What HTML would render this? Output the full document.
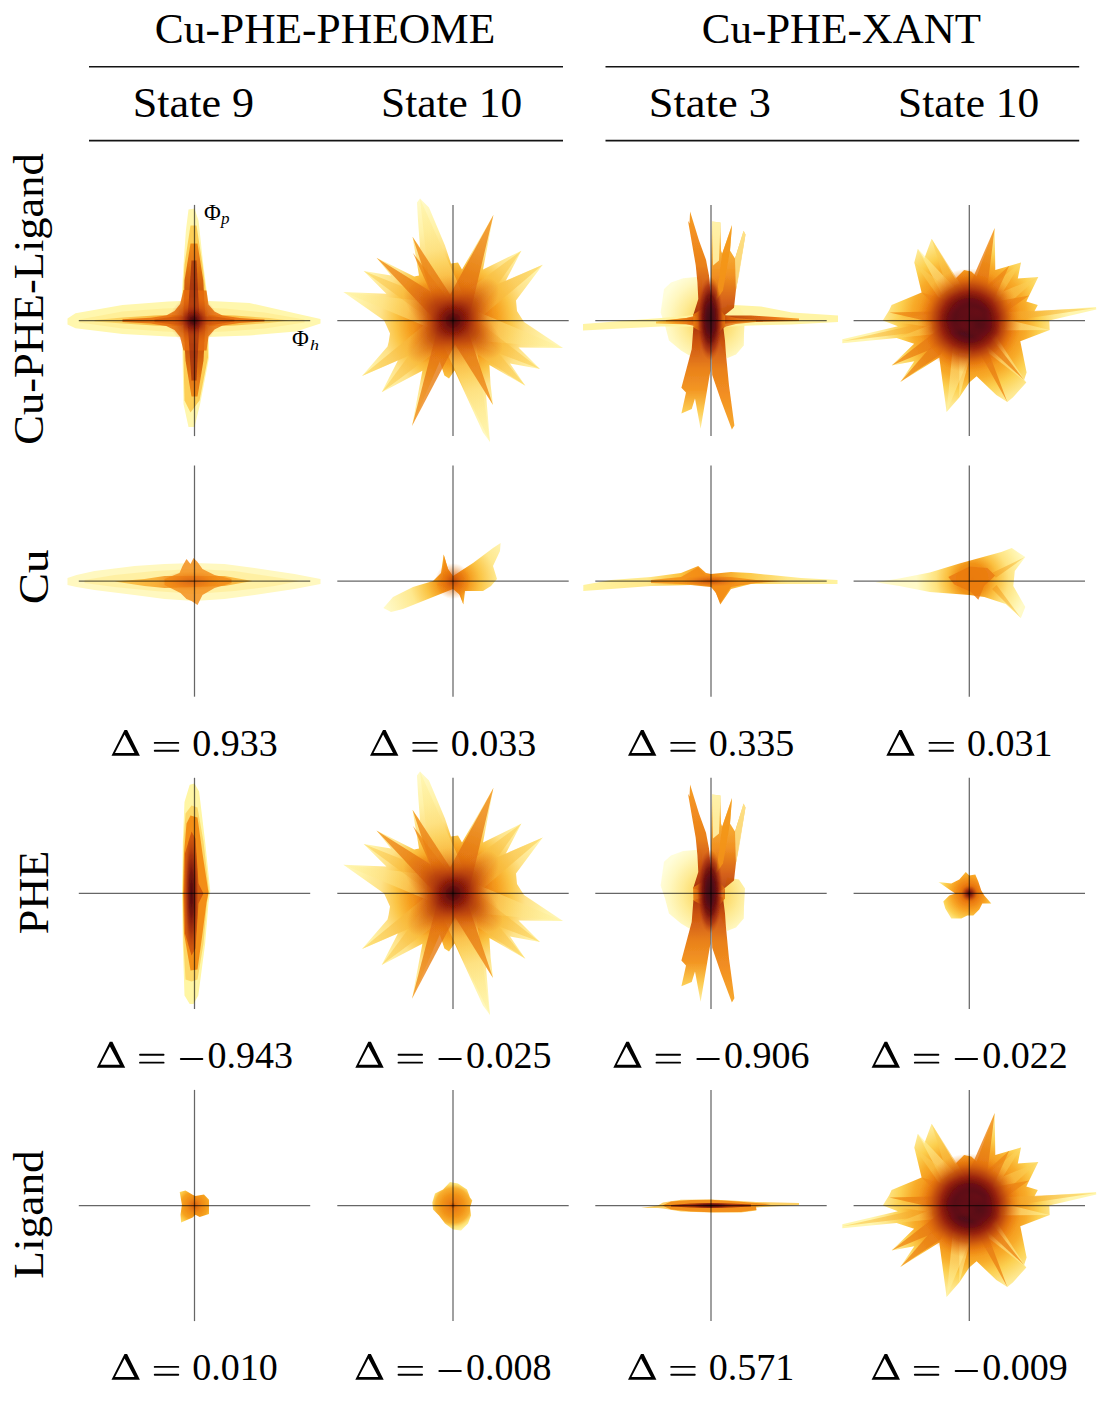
<!DOCTYPE html><html><head><meta charset="utf-8"><style>html,body{margin:0;padding:0;background:#fff;width:1120px;height:1402px;overflow:hidden}svg{display:block}</style></head><body>
<svg width="1120" height="1402" viewBox="0 0 1120 1402">
<defs><filter id="soft" x="-20%" y="-20%" width="140%" height="140%"><feGaussianBlur stdDeviation="0.7"/></filter></defs>
<g filter="url(#soft)">
<polygon points="67.5,318.5 75.5,313.2 122.5,305.1 168.5,301.5 194.5,300.5 220.5,301.5 249.5,303.0 296.0,313.5 320.5,319.0 320.5,323.5 296.0,331.5 249.5,335.5 220.5,336.5 194.5,337.5 168.5,336.5 122.5,334.1 75.5,328.3 67.5,324.5" fill="#fff7ae" fill-opacity="1"/>
<polygon points="79.5,319.5 122.5,311.5 164.5,308.5 194.5,307.5 224.5,308.5 264.5,312.5 304.5,319.5 304.5,322.5 264.5,328.5 224.5,331.5 194.5,332.5 164.5,331.5 122.5,328.5 79.5,322.5" fill="#ffea88" fill-opacity="0.6"/>
<linearGradient id="g1" gradientUnits="userSpaceOnUse" x1="94.5" y1="320.5" x2="289.5" y2="320.5"><stop offset="0" stop-color="#fde070" stop-opacity="1"/><stop offset="0.3" stop-color="#f8b030" stop-opacity="1"/><stop offset="0.5" stop-color="#ec7c10" stop-opacity="1"/><stop offset="0.7" stop-color="#f8b030" stop-opacity="1"/><stop offset="1" stop-color="#fde070" stop-opacity="1"/></linearGradient>
<polygon points="94.5,320.0 122.5,317.5 154.5,315.5 194.5,314.5 234.5,315.5 269.5,318.0 289.5,320.5 269.5,323.0 234.5,325.5 194.5,326.5 154.5,325.5 122.5,323.5 94.5,321.5" fill="url(#g1)" fill-opacity="0.85"/>
<polygon points="188.5,209.5 194.5,208.5 198.5,220.5 203.3,264.5 208.0,300.5 209.1,357.5 200.1,404.1 194.5,427.0 188.5,427.0 183.5,404.1 182.5,357.5 181.5,300.5 183.5,264.5 185.9,230.5" fill="#fff7ae" fill-opacity="1"/>
<polygon points="190.5,225.5 196.5,225.5 202.5,264.5 207.0,300.5 208.0,357.5 199.5,400.5 190.5,412.5 184.5,400.5 183.5,357.5 182.5,300.5 184.5,264.5" fill="#fcc440" fill-opacity="0.8"/>
<linearGradient id="g2" gradientUnits="userSpaceOnUse" x1="194.5" y1="240.5" x2="194.5" y2="400.5"><stop offset="0" stop-color="#f08a14" stop-opacity="1"/><stop offset="0.15" stop-color="#e2700e" stop-opacity="1"/><stop offset="0.3" stop-color="#cc560a" stop-opacity="1"/><stop offset="0.5" stop-color="#b84008" stop-opacity="1"/><stop offset="0.7" stop-color="#cc560a" stop-opacity="1"/><stop offset="0.85" stop-color="#e2700e" stop-opacity="1"/><stop offset="1" stop-color="#f08a14" stop-opacity="1"/></linearGradient>
<polygon points="190.5,243.5 197.5,243.5 203.3,280.5 205.5,320.5 203.5,360.5 197.5,396.5 191.5,396.5 185.5,360.5 183.5,320.5 184.5,280.5" fill="url(#g2)" fill-opacity="0.95"/>
<polygon points="183.5,290.0 180.1,304.0 174.5,310.9 166.2,315.5 151.0,317.8 122.5,319.3 122.5,322.0 151.0,323.5 166.2,326.0 174.5,330.1 180.1,337.0 183.5,350.5 206.5,350.5 208.5,336.5 214.5,329.5 222.5,325.5 239.5,323.0 264.5,321.5 264.5,319.5 239.5,318.0 222.5,315.5 214.5,311.5 208.5,304.5 206.5,290.5" fill="#e66c0c" fill-opacity="0.85"/>
<polygon points="154.5,319.5 174.5,316.5 214.5,316.5 234.5,319.5 234.5,321.5 214.5,324.5 174.5,324.5 154.5,322.0" fill="#c84a08" fill-opacity="0.5"/>
<polygon points="191.5,260.5 196.5,260.5 199.5,320.5 196.5,380.5 191.5,380.5 187.5,320.5" fill="#8a1a08" fill-opacity="0.55"/>
<radialGradient id="g3" gradientUnits="userSpaceOnUse" cx="193.5" cy="320.5" r="24"><stop offset="0" stop-color="#3c0812" stop-opacity="1"/><stop offset="0.15" stop-color="#5e0c0c" stop-opacity="0.95"/><stop offset="0.35" stop-color="#8a1a06" stop-opacity="0.75"/><stop offset="0.6" stop-color="#b83c08" stop-opacity="0.45"/><stop offset="1" stop-color="#d06010" stop-opacity="0"/></radialGradient>
<ellipse cx="193.5" cy="320.5" rx="24" ry="24" transform="rotate(0 193.5 320.5)" fill="url(#g3)" fill-opacity="1"/>
</g>
<g filter="url(#soft)">
<radialGradient id="g4" gradientUnits="userSpaceOnUse" cx="453.0" cy="320.5" r="125"><stop offset="0" stop-color="#e06a0e" stop-opacity="1"/><stop offset="0.25" stop-color="#f08a14" stop-opacity="1"/><stop offset="0.36" stop-color="#f6a020" stop-opacity="1"/><stop offset="0.46" stop-color="#fbc444" stop-opacity="1"/><stop offset="0.58" stop-color="#fee288" stop-opacity="1"/><stop offset="0.75" stop-color="#fff2a8" stop-opacity="1"/><stop offset="1" stop-color="#fffac8" stop-opacity="1"/></radialGradient>
<polygon points="420.0,198.5 429.0,207.5 445.0,245.5 451.0,263.5 458.0,262.5 462.0,269.5 493.5,214.8 483.0,269.5 521.4,250.7 505.7,280.9 542.8,264.7 516.0,300.5 517.0,311.1 524.0,322.0 563.0,348.1 518.5,347.5 540.0,369.0 510.0,363.5 525.4,385.8 489.4,365.0 490.6,384.7 493.0,405.0 486.0,394.0 490.0,442.1 483.0,432.5 454.6,370.5 449.0,378.5 444.4,375.5 439.8,361.5 412.0,425.9 422.4,370.8 381.7,392.2 398.0,360.3 362.0,376.0 387.5,346.5 388.7,341.7 390.0,333.5 386.4,325.5 384.1,320.5 343.4,291.9 386.4,293.7 363.7,271.1 391.0,275.5 376.5,257.7 414.2,276.5 419.0,275.5 412.5,236.8 420.0,247.5 418.0,220.5 417.0,202.5" fill="url(#g4)" fill-opacity="1"/>
<linearGradient id="g5" gradientUnits="userSpaceOnUse" x1="453.0" y1="320.5" x2="420.0" y2="198.5"><stop offset="0" stop-color="#fbc444" stop-opacity="1"/><stop offset="1" stop-color="#fff6a8" stop-opacity="1"/></linearGradient>
<polygon points="420.0,198.5 472.3,315.3 433.7,325.7" fill="url(#g5)" fill-opacity="0.6"/>
<linearGradient id="g6" gradientUnits="userSpaceOnUse" x1="453.0" y1="320.5" x2="490.0" y2="442.1"><stop offset="0" stop-color="#fbc444" stop-opacity="1"/><stop offset="1" stop-color="#fff6a8" stop-opacity="1"/></linearGradient>
<polygon points="490.0,442.1 433.9,326.3 472.1,314.7" fill="url(#g6)" fill-opacity="0.6"/>
<linearGradient id="g7" gradientUnits="userSpaceOnUse" x1="453.0" y1="320.5" x2="563.0" y2="348.1"><stop offset="0" stop-color="#fbc444" stop-opacity="1"/><stop offset="1" stop-color="#fff6a8" stop-opacity="1"/></linearGradient>
<polygon points="563.0,348.1 448.6,338.0 457.4,303.0" fill="url(#g7)" fill-opacity="0.6"/>
<linearGradient id="g8" gradientUnits="userSpaceOnUse" x1="453.0" y1="320.5" x2="343.4" y2="291.9"><stop offset="0" stop-color="#fbc444" stop-opacity="1"/><stop offset="1" stop-color="#fff6a8" stop-opacity="1"/></linearGradient>
<polygon points="343.4,291.9 457.0,305.0 449.0,336.0" fill="url(#g8)" fill-opacity="0.6"/>
<linearGradient id="g9" gradientUnits="userSpaceOnUse" x1="453.0" y1="320.5" x2="521.4" y2="250.7"><stop offset="0" stop-color="#f29a1c" stop-opacity="1"/><stop offset="1" stop-color="#fdd860" stop-opacity="1"/></linearGradient>
<polygon points="521.4,250.7 464.4,331.7 441.6,309.3" fill="url(#g9)" fill-opacity="0.65"/>
<linearGradient id="g10" gradientUnits="userSpaceOnUse" x1="453.0" y1="320.5" x2="542.8" y2="264.7"><stop offset="0" stop-color="#f29a1c" stop-opacity="1"/><stop offset="1" stop-color="#fdd860" stop-opacity="1"/></linearGradient>
<polygon points="542.8,264.7 461.4,334.1 444.6,306.9" fill="url(#g10)" fill-opacity="0.65"/>
<linearGradient id="g11" gradientUnits="userSpaceOnUse" x1="453.0" y1="320.5" x2="540.0" y2="369.0"><stop offset="0" stop-color="#f29a1c" stop-opacity="1"/><stop offset="1" stop-color="#fdd860" stop-opacity="1"/></linearGradient>
<polygon points="540.0,369.0 445.7,333.6 460.3,307.4" fill="url(#g11)" fill-opacity="0.65"/>
<linearGradient id="g12" gradientUnits="userSpaceOnUse" x1="453.0" y1="320.5" x2="525.4" y2="385.8"><stop offset="0" stop-color="#f29a1c" stop-opacity="1"/><stop offset="1" stop-color="#fdd860" stop-opacity="1"/></linearGradient>
<polygon points="525.4,385.8 443.0,331.6 463.0,309.4" fill="url(#g12)" fill-opacity="0.65"/>
<linearGradient id="g13" gradientUnits="userSpaceOnUse" x1="453.0" y1="320.5" x2="381.7" y2="392.2"><stop offset="0" stop-color="#f29a1c" stop-opacity="1"/><stop offset="1" stop-color="#fdd860" stop-opacity="1"/></linearGradient>
<polygon points="381.7,392.2 442.4,309.9 463.6,331.1" fill="url(#g13)" fill-opacity="0.65"/>
<linearGradient id="g14" gradientUnits="userSpaceOnUse" x1="453.0" y1="320.5" x2="362.0" y2="376.0"><stop offset="0" stop-color="#f29a1c" stop-opacity="1"/><stop offset="1" stop-color="#fdd860" stop-opacity="1"/></linearGradient>
<polygon points="362.0,376.0 445.2,307.7 460.8,333.3" fill="url(#g14)" fill-opacity="0.65"/>
<linearGradient id="g15" gradientUnits="userSpaceOnUse" x1="453.0" y1="320.5" x2="363.7" y2="271.1"><stop offset="0" stop-color="#f29a1c" stop-opacity="1"/><stop offset="1" stop-color="#fdd860" stop-opacity="1"/></linearGradient>
<polygon points="363.7,271.1 459.3,309.1 446.7,331.9" fill="url(#g15)" fill-opacity="0.65"/>
<linearGradient id="g16" gradientUnits="userSpaceOnUse" x1="453.0" y1="320.5" x2="493.5" y2="214.8"><stop offset="0" stop-color="#d8620c" stop-opacity="1"/><stop offset="1" stop-color="#f39018" stop-opacity="1"/></linearGradient>
<polygon points="493.5,214.8 467.0,325.9 439.0,315.1" fill="url(#g16)" fill-opacity="0.8"/>
<linearGradient id="g17" gradientUnits="userSpaceOnUse" x1="453.0" y1="320.5" x2="493.0" y2="405.0"><stop offset="0" stop-color="#d8620c" stop-opacity="1"/><stop offset="1" stop-color="#f39018" stop-opacity="1"/></linearGradient>
<polygon points="493.0,405.0 443.1,325.2 462.9,315.8" fill="url(#g17)" fill-opacity="0.8"/>
<linearGradient id="g18" gradientUnits="userSpaceOnUse" x1="453.0" y1="320.5" x2="412.0" y2="425.9"><stop offset="0" stop-color="#d8620c" stop-opacity="1"/><stop offset="1" stop-color="#f39018" stop-opacity="1"/></linearGradient>
<polygon points="412.0,425.9 440.9,315.8 465.1,325.2" fill="url(#g18)" fill-opacity="0.8"/>
<linearGradient id="g19" gradientUnits="userSpaceOnUse" x1="453.0" y1="320.5" x2="376.5" y2="257.7"><stop offset="0" stop-color="#d8620c" stop-opacity="1"/><stop offset="1" stop-color="#f39018" stop-opacity="1"/></linearGradient>
<polygon points="376.5,257.7 461.2,310.5 444.8,330.5" fill="url(#g19)" fill-opacity="0.8"/>
<linearGradient id="g20" gradientUnits="userSpaceOnUse" x1="453.0" y1="320.5" x2="412.5" y2="236.8"><stop offset="0" stop-color="#d8620c" stop-opacity="1"/><stop offset="1" stop-color="#f39018" stop-opacity="1"/></linearGradient>
<polygon points="412.5,236.8 463.8,315.3 442.2,325.7" fill="url(#g20)" fill-opacity="0.8"/>
<linearGradient id="g21" gradientUnits="userSpaceOnUse" x1="453.0" y1="320.5" x2="413.0" y2="253.1"><stop offset="0" stop-color="#d8620c" stop-opacity="1"/><stop offset="1" stop-color="#f39018" stop-opacity="1"/></linearGradient>
<polygon points="413.0,253.1 460.7,315.9 445.3,325.1" fill="url(#g21)" fill-opacity="0.8"/>
<radialGradient id="g22" gradientUnits="userSpaceOnUse" cx="453.0" cy="320.5" r="58" gradientTransform="translate(453.0 320.5) rotate(0) scale(1 0.4138) translate(-453.0 -320.5)"><stop offset="0" stop-color="#6a0e0c" stop-opacity="0.9"/><stop offset="0.3" stop-color="#8a1a08" stop-opacity="0.8"/><stop offset="0.55" stop-color="#b83c08" stop-opacity="0.6"/><stop offset="0.8" stop-color="#d86010" stop-opacity="0.3"/><stop offset="1" stop-color="#e0680c" stop-opacity="0"/></radialGradient>
<ellipse cx="453.0" cy="320.5" rx="58" ry="24" transform="rotate(35 453.0 320.5)" fill="url(#g22)" fill-opacity="1"/>
<radialGradient id="g23" gradientUnits="userSpaceOnUse" cx="453.0" cy="320.5" r="58" gradientTransform="translate(453.0 320.5) rotate(0) scale(1 0.4138) translate(-453.0 -320.5)"><stop offset="0" stop-color="#6a0e0c" stop-opacity="0.9"/><stop offset="0.3" stop-color="#8a1a08" stop-opacity="0.8"/><stop offset="0.55" stop-color="#b83c08" stop-opacity="0.6"/><stop offset="0.8" stop-color="#d86010" stop-opacity="0.3"/><stop offset="1" stop-color="#e0680c" stop-opacity="0"/></radialGradient>
<ellipse cx="453.0" cy="320.5" rx="58" ry="24" transform="rotate(-42 453.0 320.5)" fill="url(#g23)" fill-opacity="1"/>
<radialGradient id="g24" gradientUnits="userSpaceOnUse" cx="453.0" cy="320.5" r="46"><stop offset="0.0" stop-color="#3c0812" stop-opacity="1"/><stop offset="0.1" stop-color="#5e0c0c" stop-opacity="0.95"/><stop offset="0.28" stop-color="#8a1a06" stop-opacity="0.85"/><stop offset="0.5" stop-color="#b84008" stop-opacity="0.65"/><stop offset="0.75" stop-color="#d8640c" stop-opacity="0.35"/><stop offset="1.0" stop-color="#f08a14" stop-opacity="0"/></radialGradient>
<ellipse cx="453.0" cy="320.5" rx="46" ry="46" transform="rotate(0 453.0 320.5)" fill="url(#g24)" fill-opacity="1"/>
</g>
<g filter="url(#soft)">
<radialGradient id="g25" gradientUnits="userSpaceOnUse" cx="711.0" cy="320.5" r="52"><stop offset="0" stop-color="#f8b030" stop-opacity="1"/><stop offset="0.3" stop-color="#fcd860" stop-opacity="1"/><stop offset="0.55" stop-color="#feea90" stop-opacity="1"/><stop offset="0.8" stop-color="#fff7bc" stop-opacity="1"/><stop offset="1" stop-color="#fffdd8" stop-opacity="1"/></radialGradient>
<polygon points="701.0,276.5 683.1,278.2 671.0,282.5 664.0,288.9 660.6,312.5 665.0,325.5 669.0,340.5 681.0,350.5 691.0,356.5 699.0,356.5 705.0,320.5" fill="url(#g25)" fill-opacity="0.95"/>
<polygon points="727.0,304.5 739.0,306.5 745.0,315.5 744.0,333.5 743.8,345.5 736.0,354.5 727.0,358.2 719.0,340.5" fill="url(#g25)" fill-opacity="0.95"/>
<polygon points="583.0,324.0 621.0,321.0 661.0,318.0 691.0,315.5 734.0,305.1 761.0,306.5 792.0,312.5 838.0,315.5 838.0,322.0 791.0,324.5 751.0,325.5 731.0,326.5 691.0,326.5 661.0,326.5 621.0,328.5 583.0,330.5" fill="#fff3a0" fill-opacity="0.95"/>
<linearGradient id="g26" gradientUnits="userSpaceOnUse" x1="656.0" y1="320.5" x2="801.0" y2="320.5"><stop offset="0" stop-color="#fcc440" stop-opacity="1"/><stop offset="0.2" stop-color="#f28a14" stop-opacity="1"/><stop offset="0.38" stop-color="#8a1a08" stop-opacity="1"/><stop offset="0.55" stop-color="#c04a08" stop-opacity="1"/><stop offset="0.8" stop-color="#e66c0c" stop-opacity="1"/><stop offset="1" stop-color="#f8a426" stop-opacity="1"/></linearGradient>
<polygon points="656.0,321.5 691.0,317.5 711.0,315.5 751.0,315.5 799.0,318.5 799.0,321.0 751.0,322.0 711.0,324.5 691.0,324.5 656.0,323.5" fill="url(#g26)" fill-opacity="0.95"/>
<linearGradient id="g27" gradientUnits="userSpaceOnUse" x1="663.0" y1="320.5" x2="759.0" y2="320.5"><stop offset="0" stop-color="#f8a426" stop-opacity="1"/><stop offset="0.3" stop-color="#e66c0c" stop-opacity="1"/><stop offset="0.5" stop-color="#9a2406" stop-opacity="1"/><stop offset="0.7" stop-color="#e66c0c" stop-opacity="1"/><stop offset="1" stop-color="#f8a426" stop-opacity="1"/></linearGradient>
<polygon points="666.0,320.0 686.0,318.0 696.0,315.5 701.0,311.5 721.0,311.5 726.0,315.5 736.0,318.0 756.0,320.0 756.0,322.0 736.0,324.0 726.0,326.5 721.0,329.5 701.0,329.5 696.0,326.5 686.0,324.0 666.0,322.0" fill="url(#g27)" fill-opacity="0.8"/>
<linearGradient id="g28" gradientUnits="userSpaceOnUse" x1="711.0" y1="320.5" x2="711.0" y2="210.5"><stop offset="0" stop-color="#9a2406" stop-opacity="1"/><stop offset="0.25" stop-color="#c84a08" stop-opacity="1"/><stop offset="0.5" stop-color="#e87a10" stop-opacity="1"/><stop offset="0.8" stop-color="#f28a14" stop-opacity="1"/><stop offset="1" stop-color="#f49a1c" stop-opacity="1"/></linearGradient>
<polygon points="690.1,211.5 699.0,240.5 706.0,259.8 709.0,275.5 711.0,300.5 711.0,320.5 693.1,315.5 698.3,299.1 697.4,282.0 695.7,264.9 688.0,220.8 689.5,223.5" fill="url(#g28)" fill-opacity="0.95"/>
<linearGradient id="g29" gradientUnits="userSpaceOnUse" x1="711.0" y1="320.5" x2="711.0" y2="220.5"><stop offset="0" stop-color="#b03a08" stop-opacity="1"/><stop offset="0.2" stop-color="#d45a0a" stop-opacity="1"/><stop offset="0.45" stop-color="#f08a14" stop-opacity="1"/><stop offset="0.75" stop-color="#f8b030" stop-opacity="1"/><stop offset="1" stop-color="#fde080" stop-opacity="1"/></linearGradient>
<polygon points="711.0,320.5 711.0,280.5 712.0,221.5 720.5,222.5 721.0,250.5 722.2,253.8 732.0,225.1 730.0,250.5 735.0,258.5 743.6,230.7 745.5,234.5 735.9,290.5 734.0,307.7 723.0,316.5" fill="url(#g29)" fill-opacity="0.95"/>
<polygon points="712.0,221.5 720.5,222.5 719.0,260.5 713.0,265.5" fill="#fff6b0" fill-opacity="0.85"/>
<polygon points="735.0,258.5 743.6,230.7 745.5,234.5 739.0,275.5 735.9,290.5" fill="#fee690" fill-opacity="0.8"/>
<polygon points="722.2,253.8 732.0,225.1 730.0,250.5 723.0,290.5 716.0,300.5" fill="#f39418" fill-opacity="0.85"/>
<linearGradient id="g30" gradientUnits="userSpaceOnUse" x1="711.0" y1="320.5" x2="711.0" y2="426.5"><stop offset="0" stop-color="#9a2406" stop-opacity="1"/><stop offset="0.2" stop-color="#c84a08" stop-opacity="1"/><stop offset="0.45" stop-color="#e87a10" stop-opacity="1"/><stop offset="0.65" stop-color="#f29016" stop-opacity="1"/><stop offset="0.85" stop-color="#fcc848" stop-opacity="1"/><stop offset="1" stop-color="#fee890" stop-opacity="1"/></linearGradient>
<polygon points="711.0,322.5 693.4,327.0 691.7,349.2 681.4,387.7 686.0,392.5 681.4,413.4 691.7,409.1 695.0,398.5 700.6,428.8 708.8,380.0 710.5,370.5 711.0,340.5" fill="url(#g30)" fill-opacity="0.95"/>
<linearGradient id="g31" gradientUnits="userSpaceOnUse" x1="711.0" y1="320.5" x2="711.0" y2="428.5"><stop offset="0" stop-color="#9a2406" stop-opacity="1"/><stop offset="0.2" stop-color="#c84a08" stop-opacity="1"/><stop offset="0.45" stop-color="#e87a10" stop-opacity="1"/><stop offset="0.7" stop-color="#f28a14" stop-opacity="1"/><stop offset="1" stop-color="#f6a424" stop-opacity="1"/></linearGradient>
<polygon points="712.0,322.5 723.0,324.5 725.0,340.7 725.9,353.5 729.0,385.5 734.4,425.4 731.9,429.5 721.0,400.5 712.2,374.9 711.5,350.5" fill="url(#g31)" fill-opacity="0.95"/>
<linearGradient id="g32" gradientUnits="userSpaceOnUse" x1="694.0" y1="320.5" x2="726.0" y2="320.5"><stop offset="0" stop-color="#e87a10" stop-opacity="1"/><stop offset="0.25" stop-color="#c04a08" stop-opacity="1"/><stop offset="0.5" stop-color="#8a1a08" stop-opacity="1"/><stop offset="0.75" stop-color="#c04a08" stop-opacity="1"/><stop offset="1" stop-color="#e87a10" stop-opacity="1"/></linearGradient>
<polygon points="693.1,314.5 703.0,308.5 719.0,308.5 725.0,315.5 725.0,325.5 719.0,332.5 703.0,332.5 693.4,327.5" fill="url(#g32)" fill-opacity="0.9"/>
<radialGradient id="g33" gradientUnits="userSpaceOnUse" cx="710.0" cy="318.5" r="13" gradientTransform="translate(710.0 318.5) rotate(0) scale(1 3.2308) translate(-710.0 -318.5)"><stop offset="0" stop-color="#3c0812" stop-opacity="1"/><stop offset="0.3" stop-color="#520c14" stop-opacity="1"/><stop offset="0.55" stop-color="#6e0e10" stop-opacity="0.9"/><stop offset="0.8" stop-color="#9a2406" stop-opacity="0.55"/><stop offset="1" stop-color="#c04a08" stop-opacity="0"/></radialGradient>
<ellipse cx="710.0" cy="318.5" rx="13" ry="42" transform="rotate(0 710.0 318.5)" fill="url(#g33)" fill-opacity="1"/>
</g>
<g filter="url(#soft)">
<radialGradient id="g34" gradientUnits="userSpaceOnUse" cx="969.3" cy="320.5" r="100"><stop offset="0.0" stop-color="#d85a0c" stop-opacity="1"/><stop offset="0.3" stop-color="#ec7a10" stop-opacity="1"/><stop offset="0.45" stop-color="#f29016" stop-opacity="1"/><stop offset="0.58" stop-color="#f8ac2a" stop-opacity="1"/><stop offset="0.7" stop-color="#fcd050" stop-opacity="1"/><stop offset="0.85" stop-color="#fee890" stop-opacity="1"/><stop offset="1.0" stop-color="#fff6b0" stop-opacity="1"/></radialGradient>
<polygon points="971.3,271.5 976.6,276.5 994.7,228.1 995.3,270.0 1021.0,262.5 1017.8,278.5 1038.3,276.9 1026.3,301.5 1037.8,305.0 1034.3,311.5 1096.0,307.0 1096.3,309.5 1049.3,320.5 1049.7,330.0 1020.3,341.2 1026.6,372.5 1024.1,380.0 1026.3,382.5 1012.8,397.5 1007.3,401.9 996.3,395.0 976.6,376.2 969.3,382.5 959.3,397.5 946.6,411.9 939.3,357.5 900.3,381.9 914.3,361.2 891.6,365.5 914.1,343.7 896.6,338.1 842.3,343.2 842.3,339.2 897.9,326.2 882.8,320.5 889.3,310.0 891.6,305.0 921.6,292.5 914.3,262.5 917.8,248.7 924.3,258.5 931.6,238.7 955.3,278.7 964.1,270.0" fill="url(#g34)" fill-opacity="1"/>
<linearGradient id="g35" gradientUnits="userSpaceOnUse" x1="969.3" y1="320.5" x2="946.6" y2="411.9"><stop offset="0" stop-color="#fbc444" stop-opacity="1"/><stop offset="1" stop-color="#fff6a8" stop-opacity="1"/></linearGradient>
<polygon points="946.6,411.9 955.7,317.1 982.9,323.9" fill="url(#g35)" fill-opacity="0.6"/>
<linearGradient id="g36" gradientUnits="userSpaceOnUse" x1="969.3" y1="320.5" x2="1026.3" y2="382.5"><stop offset="0" stop-color="#fbc444" stop-opacity="1"/><stop offset="1" stop-color="#fff6a8" stop-opacity="1"/></linearGradient>
<polygon points="1026.3,382.5 959.0,330.0 979.6,311.0" fill="url(#g36)" fill-opacity="0.6"/>
<linearGradient id="g37" gradientUnits="userSpaceOnUse" x1="969.3" y1="320.5" x2="917.8" y2="248.7"><stop offset="0" stop-color="#fbc444" stop-opacity="1"/><stop offset="1" stop-color="#fff6a8" stop-opacity="1"/></linearGradient>
<polygon points="917.8,248.7 979.1,313.5 959.5,327.5" fill="url(#g37)" fill-opacity="0.6"/>
<linearGradient id="g38" gradientUnits="userSpaceOnUse" x1="969.3" y1="320.5" x2="1049.7" y2="330.0"><stop offset="0" stop-color="#fbc444" stop-opacity="1"/><stop offset="1" stop-color="#fff6a8" stop-opacity="1"/></linearGradient>
<polygon points="1049.7,330.0 968.1,330.4 970.5,310.6" fill="url(#g38)" fill-opacity="0.6"/>
<linearGradient id="g39" gradientUnits="userSpaceOnUse" x1="969.3" y1="320.5" x2="959.3" y2="397.5"><stop offset="0" stop-color="#fbc444" stop-opacity="1"/><stop offset="1" stop-color="#fff6a8" stop-opacity="1"/></linearGradient>
<polygon points="959.3,397.5 959.4,319.2 979.2,321.8" fill="url(#g39)" fill-opacity="0.6"/>
<linearGradient id="g40" gradientUnits="userSpaceOnUse" x1="969.3" y1="320.5" x2="914.3" y2="262.5"><stop offset="0" stop-color="#f29a1c" stop-opacity="1"/><stop offset="1" stop-color="#fdd860" stop-opacity="1"/></linearGradient>
<polygon points="914.3,262.5 978.0,312.2 960.6,328.8" fill="url(#g40)" fill-opacity="0.65"/>
<linearGradient id="g41" gradientUnits="userSpaceOnUse" x1="969.3" y1="320.5" x2="931.6" y2="238.7"><stop offset="0" stop-color="#f29a1c" stop-opacity="1"/><stop offset="1" stop-color="#fdd860" stop-opacity="1"/></linearGradient>
<polygon points="931.6,238.7 980.2,315.5 958.4,325.5" fill="url(#g41)" fill-opacity="0.65"/>
<linearGradient id="g42" gradientUnits="userSpaceOnUse" x1="969.3" y1="320.5" x2="1021.0" y2="262.5"><stop offset="0" stop-color="#f29a1c" stop-opacity="1"/><stop offset="1" stop-color="#fdd860" stop-opacity="1"/></linearGradient>
<polygon points="1021.0,262.5 979.8,329.8 958.8,311.2" fill="url(#g42)" fill-opacity="0.65"/>
<linearGradient id="g43" gradientUnits="userSpaceOnUse" x1="969.3" y1="320.5" x2="1038.3" y2="276.9"><stop offset="0" stop-color="#f29a1c" stop-opacity="1"/><stop offset="1" stop-color="#fdd860" stop-opacity="1"/></linearGradient>
<polygon points="1038.3,276.9 976.8,332.3 961.8,308.7" fill="url(#g43)" fill-opacity="0.65"/>
<linearGradient id="g44" gradientUnits="userSpaceOnUse" x1="939.3" y1="324.5" x2="842.3" y2="341.2"><stop offset="0" stop-color="#f29a1c" stop-opacity="1"/><stop offset="1" stop-color="#fdd860" stop-opacity="1"/></linearGradient>
<polygon points="842.3,341.2 938.5,319.6 940.1,329.4" fill="url(#g44)" fill-opacity="0.65"/>
<linearGradient id="g45" gradientUnits="userSpaceOnUse" x1="999.3" y1="317.5" x2="1096.0" y2="308.0"><stop offset="0" stop-color="#f29a1c" stop-opacity="1"/><stop offset="1" stop-color="#fdd860" stop-opacity="1"/></linearGradient>
<polygon points="1096.0,308.0 999.8,322.5 998.8,312.5" fill="url(#g45)" fill-opacity="0.65"/>
<linearGradient id="g46" gradientUnits="userSpaceOnUse" x1="969.3" y1="320.5" x2="883.3" y2="320.5"><stop offset="0" stop-color="#f29a1c" stop-opacity="1"/><stop offset="1" stop-color="#fdd860" stop-opacity="1"/></linearGradient>
<polygon points="883.3,320.5 969.3,308.5 969.3,332.5" fill="url(#g46)" fill-opacity="0.65"/>
<linearGradient id="g47" gradientUnits="userSpaceOnUse" x1="969.3" y1="320.5" x2="896.6" y2="338.1"><stop offset="0" stop-color="#f29a1c" stop-opacity="1"/><stop offset="1" stop-color="#fdd860" stop-opacity="1"/></linearGradient>
<polygon points="896.6,338.1 966.9,310.8 971.7,330.2" fill="url(#g47)" fill-opacity="0.65"/>
<linearGradient id="g48" gradientUnits="userSpaceOnUse" x1="969.3" y1="320.5" x2="994.7" y2="228.1"><stop offset="0" stop-color="#d8620c" stop-opacity="1"/><stop offset="1" stop-color="#f39018" stop-opacity="1"/></linearGradient>
<polygon points="994.7,228.1 982.8,324.2 955.8,316.8" fill="url(#g48)" fill-opacity="0.8"/>
<linearGradient id="g49" gradientUnits="userSpaceOnUse" x1="969.3" y1="320.5" x2="891.6" y2="365.5"><stop offset="0" stop-color="#d8620c" stop-opacity="1"/><stop offset="1" stop-color="#f39018" stop-opacity="1"/></linearGradient>
<polygon points="891.6,365.5 963.3,310.1 975.3,330.9" fill="url(#g49)" fill-opacity="0.8"/>
<linearGradient id="g50" gradientUnits="userSpaceOnUse" x1="969.3" y1="320.5" x2="900.3" y2="381.9"><stop offset="0" stop-color="#d8620c" stop-opacity="1"/><stop offset="1" stop-color="#f39018" stop-opacity="1"/></linearGradient>
<polygon points="900.3,381.9 961.3,311.5 977.3,329.5" fill="url(#g50)" fill-opacity="0.8"/>
<linearGradient id="g51" gradientUnits="userSpaceOnUse" x1="969.3" y1="320.5" x2="1007.3" y2="401.9"><stop offset="0" stop-color="#d8620c" stop-opacity="1"/><stop offset="1" stop-color="#f39018" stop-opacity="1"/></linearGradient>
<polygon points="1007.3,401.9 963.0,323.5 975.6,317.5" fill="url(#g51)" fill-opacity="0.8"/>
<linearGradient id="g52" gradientUnits="userSpaceOnUse" x1="969.3" y1="320.5" x2="1024.1" y2="380.0"><stop offset="0" stop-color="#d8620c" stop-opacity="1"/><stop offset="1" stop-color="#f39018" stop-opacity="1"/></linearGradient>
<polygon points="1024.1,380.0 964.2,325.2 974.4,315.8" fill="url(#g52)" fill-opacity="0.8"/>
<linearGradient id="g53" gradientUnits="userSpaceOnUse" x1="969.3" y1="320.5" x2="889.3" y2="312.5"><stop offset="0" stop-color="#d8620c" stop-opacity="1"/><stop offset="1" stop-color="#f39018" stop-opacity="1"/></linearGradient>
<polygon points="889.3,312.5 970.3,310.5 968.3,330.5" fill="url(#g53)" fill-opacity="0.8"/>
<linearGradient id="g54" gradientUnits="userSpaceOnUse" x1="969.3" y1="320.5" x2="1029.3" y2="295.5"><stop offset="0" stop-color="#d8620c" stop-opacity="1"/><stop offset="1" stop-color="#f39018" stop-opacity="1"/></linearGradient>
<polygon points="1029.3,295.5 974.7,333.4 963.9,307.6" fill="url(#g54)" fill-opacity="0.8"/>
<linearGradient id="g55" gradientUnits="userSpaceOnUse" x1="969.3" y1="320.5" x2="1009.3" y2="265.5"><stop offset="0" stop-color="#d8620c" stop-opacity="1"/><stop offset="1" stop-color="#f39018" stop-opacity="1"/></linearGradient>
<polygon points="1009.3,265.5 980.6,328.7 958.0,312.3" fill="url(#g55)" fill-opacity="0.8"/>
<linearGradient id="g56" gradientUnits="userSpaceOnUse" x1="969.3" y1="320.5" x2="921.6" y2="292.5"><stop offset="0" stop-color="#d8620c" stop-opacity="1"/><stop offset="1" stop-color="#f39018" stop-opacity="1"/></linearGradient>
<polygon points="921.6,292.5 976.4,308.4 962.2,332.6" fill="url(#g56)" fill-opacity="0.8"/>
<linearGradient id="g57" gradientUnits="userSpaceOnUse" x1="969.3" y1="320.5" x2="939.3" y2="357.5"><stop offset="0" stop-color="#d8620c" stop-opacity="1"/><stop offset="1" stop-color="#f39018" stop-opacity="1"/></linearGradient>
<polygon points="939.3,357.5 960.0,312.9 978.6,328.1" fill="url(#g57)" fill-opacity="0.8"/>
<radialGradient id="g58" gradientUnits="userSpaceOnUse" cx="951.3" cy="332.5" r="26" gradientTransform="translate(951.3 332.5) rotate(0) scale(1 0.4615) translate(-951.3 -332.5)"><stop offset="0" stop-color="#8a1a08" stop-opacity="0.55"/><stop offset="0.5" stop-color="#b03a08" stop-opacity="0.35"/><stop offset="1" stop-color="#d05a0c" stop-opacity="0"/></radialGradient>
<ellipse cx="951.3" cy="332.5" rx="26" ry="12" transform="rotate(-30 951.3 332.5)" fill="url(#g58)" fill-opacity="1"/>
<radialGradient id="g59" gradientUnits="userSpaceOnUse" cx="985.3" cy="306.5" r="26" gradientTransform="translate(985.3 306.5) rotate(0) scale(1 0.4615) translate(-985.3 -306.5)"><stop offset="0" stop-color="#8a1a08" stop-opacity="0.55"/><stop offset="0.5" stop-color="#b03a08" stop-opacity="0.35"/><stop offset="1" stop-color="#d05a0c" stop-opacity="0"/></radialGradient>
<ellipse cx="985.3" cy="306.5" rx="26" ry="12" transform="rotate(-35 985.3 306.5)" fill="url(#g59)" fill-opacity="1"/>
<radialGradient id="g60" gradientUnits="userSpaceOnUse" cx="983.3" cy="334.5" r="22" gradientTransform="translate(983.3 334.5) rotate(0) scale(1 0.4545) translate(-983.3 -334.5)"><stop offset="0" stop-color="#8a1a08" stop-opacity="0.55"/><stop offset="0.5" stop-color="#b03a08" stop-opacity="0.35"/><stop offset="1" stop-color="#d05a0c" stop-opacity="0"/></radialGradient>
<ellipse cx="983.3" cy="334.5" rx="22" ry="10" transform="rotate(50 983.3 334.5)" fill="url(#g60)" fill-opacity="1"/>
<radialGradient id="g61" gradientUnits="userSpaceOnUse" cx="955.3" cy="306.5" r="22" gradientTransform="translate(955.3 306.5) rotate(0) scale(1 0.4545) translate(-955.3 -306.5)"><stop offset="0" stop-color="#8a1a08" stop-opacity="0.55"/><stop offset="0.5" stop-color="#b03a08" stop-opacity="0.35"/><stop offset="1" stop-color="#d05a0c" stop-opacity="0"/></radialGradient>
<ellipse cx="955.3" cy="306.5" rx="22" ry="10" transform="rotate(45 955.3 306.5)" fill="url(#g61)" fill-opacity="1"/>
<radialGradient id="g62" gradientUnits="userSpaceOnUse" cx="991.3" cy="318.5" r="22" gradientTransform="translate(991.3 318.5) rotate(0) scale(1 0.4091) translate(-991.3 -318.5)"><stop offset="0" stop-color="#8a1a08" stop-opacity="0.55"/><stop offset="0.5" stop-color="#b03a08" stop-opacity="0.35"/><stop offset="1" stop-color="#d05a0c" stop-opacity="0"/></radialGradient>
<ellipse cx="991.3" cy="318.5" rx="22" ry="9" transform="rotate(-10 991.3 318.5)" fill="url(#g62)" fill-opacity="1"/>
<radialGradient id="g63" gradientUnits="userSpaceOnUse" cx="947.3" cy="324.5" r="20" gradientTransform="translate(947.3 324.5) rotate(0) scale(1 0.4500) translate(-947.3 -324.5)"><stop offset="0" stop-color="#8a1a08" stop-opacity="0.55"/><stop offset="0.5" stop-color="#b03a08" stop-opacity="0.35"/><stop offset="1" stop-color="#d05a0c" stop-opacity="0"/></radialGradient>
<ellipse cx="947.3" cy="324.5" rx="20" ry="9" transform="rotate(-15 947.3 324.5)" fill="url(#g63)" fill-opacity="1"/>
<radialGradient id="g64" gradientUnits="userSpaceOnUse" cx="969.3" cy="320.5" r="52"><stop offset="0.0" stop-color="#4a0a16" stop-opacity="1"/><stop offset="0.3" stop-color="#520c1a" stop-opacity="1"/><stop offset="0.42" stop-color="#6e0e12" stop-opacity="1"/><stop offset="0.55" stop-color="#962008" stop-opacity="0.95"/><stop offset="0.7" stop-color="#c04a08" stop-opacity="0.85"/><stop offset="0.85" stop-color="#e06a0c" stop-opacity="0.45"/><stop offset="1.0" stop-color="#f08a14" stop-opacity="0"/></radialGradient>
<ellipse cx="969.3" cy="320.5" rx="52" ry="52" transform="rotate(0 969.3 320.5)" fill="url(#g64)" fill-opacity="1"/>
<radialGradient id="g65" gradientUnits="userSpaceOnUse" cx="962.3" cy="316.5" r="24" gradientTransform="translate(962.3 316.5) rotate(0) scale(1 0.6667) translate(-962.3 -316.5)"><stop offset="0" stop-color="#520c1a" stop-opacity="0.75"/><stop offset="0.6" stop-color="#6e0e12" stop-opacity="0.45"/><stop offset="1" stop-color="#8a1a08" stop-opacity="0"/></radialGradient>
<ellipse cx="962.3" cy="316.5" rx="24" ry="16" transform="rotate(-20 962.3 316.5)" fill="url(#g65)" fill-opacity="1"/>
<radialGradient id="g66" gradientUnits="userSpaceOnUse" cx="978.3" cy="323.5" r="24" gradientTransform="translate(978.3 323.5) rotate(0) scale(1 0.6250) translate(-978.3 -323.5)"><stop offset="0" stop-color="#520c1a" stop-opacity="0.75"/><stop offset="0.6" stop-color="#6e0e12" stop-opacity="0.45"/><stop offset="1" stop-color="#8a1a08" stop-opacity="0"/></radialGradient>
<ellipse cx="978.3" cy="323.5" rx="24" ry="15" transform="rotate(25 978.3 323.5)" fill="url(#g66)" fill-opacity="1"/>
</g>
<g filter="url(#soft)">
<polygon points="67.5,578.1 76.5,575.1 94.5,571.1 134.5,566.1 164.5,564.1 194.5,563.1 224.5,564.1 254.5,568.1 294.5,574.1 320.5,579.1 320.5,584.1 294.5,589.1 254.5,595.1 224.5,599.1 194.5,601.1 164.5,599.1 134.5,595.1 94.5,590.1 76.5,587.1 67.5,585.1" fill="#fff8c0" fill-opacity="1"/>
<polygon points="84.5,580.1 114.5,575.1 154.5,571.1 194.5,569.1 234.5,571.1 274.5,577.1 299.5,581.1 274.5,586.1 234.5,591.1 194.5,594.1 154.5,591.1 114.5,587.1 84.5,583.1" fill="#ffe680" fill-opacity="0.45"/>
<linearGradient id="g67" gradientUnits="userSpaceOnUse" x1="114.5" y1="581.1" x2="252.5" y2="581.1"><stop offset="0" stop-color="#fcc440" stop-opacity="1"/><stop offset="0.3" stop-color="#f8a426" stop-opacity="1"/><stop offset="0.55" stop-color="#e66c0c" stop-opacity="1"/><stop offset="0.8" stop-color="#f8a426" stop-opacity="1"/><stop offset="1" stop-color="#fcc440" stop-opacity="1"/></linearGradient>
<polygon points="114.5,581.6 144.5,579.1 164.5,576.1 224.5,576.1 252.5,581.1 224.5,586.1 164.5,588.1 144.5,586.1" fill="url(#g67)" fill-opacity="0.85"/>
<polygon points="164.5,579.1 179.5,573.1 182.5,566.1 186.5,559.1 190.5,564.1 193.5,558.1 197.5,562.1 202.5,569.1 214.5,575.1 231.5,579.1 231.5,583.1 214.5,588.1 202.5,595.1 197.5,605.1 191.5,601.1 186.5,599.1 180.5,593.1 164.5,585.1" fill="#f28a14" fill-opacity="0.8"/>
<radialGradient id="g68" gradientUnits="userSpaceOnUse" cx="191.5" cy="581.1" r="30" gradientTransform="translate(191.5 581.1) rotate(0) scale(1 0.3333) translate(-191.5 -581.1)"><stop offset="0" stop-color="#d06010" stop-opacity="0.8"/><stop offset="0.5" stop-color="#e47010" stop-opacity="0.5"/><stop offset="1" stop-color="#f08a14" stop-opacity="0"/></radialGradient>
<ellipse cx="191.5" cy="581.1" rx="30" ry="10" transform="rotate(0 191.5 581.1)" fill="url(#g68)" fill-opacity="1"/>
</g>
<g filter="url(#soft)">
<radialGradient id="g69" gradientUnits="userSpaceOnUse" cx="453.0" cy="581.1" r="72"><stop offset="0" stop-color="#e8780e" stop-opacity="1"/><stop offset="0.2" stop-color="#f39418" stop-opacity="1"/><stop offset="0.38" stop-color="#fbc444" stop-opacity="1"/><stop offset="0.6" stop-color="#fee88e" stop-opacity="1"/><stop offset="1" stop-color="#fffac8" stop-opacity="1"/></radialGradient>
<polygon points="383.4,608.1 393.0,597.1 413.0,587.1 433.0,581.1 441.0,573.1 443.7,554.6 448.0,569.1 453.0,576.1 473.0,563.1 493.0,548.1 500.6,543.1 500.0,551.1 493.0,566.1 497.0,579.1 491.0,586.1 483.0,591.1 465.0,591.1 463.4,604.5 460.0,595.1 453.0,589.1 443.0,593.1 423.0,601.1 403.0,609.1 391.0,612.1" fill="url(#g69)" fill-opacity="1"/>
<polygon points="443.7,554.6 448.0,569.1 453.0,577.1 461.0,573.1 465.0,579.1 459.0,585.1 463.4,604.5 457.0,589.1 447.0,587.1 437.0,585.1 443.0,577.1" fill="#f28a14" fill-opacity="0.8"/>
<radialGradient id="g70" gradientUnits="userSpaceOnUse" cx="453.0" cy="581.1" r="18"><stop offset="0" stop-color="#b03a08" stop-opacity="0.8"/><stop offset="0.4" stop-color="#d85c0a" stop-opacity="0.6"/><stop offset="1" stop-color="#ec7c10" stop-opacity="0"/></radialGradient>
<ellipse cx="453.0" cy="581.1" rx="18" ry="18" transform="rotate(0 453.0 581.1)" fill="url(#g70)" fill-opacity="1"/>
</g>
<g filter="url(#soft)">
<linearGradient id="g71" gradientUnits="userSpaceOnUse" x1="583.0" y1="581.1" x2="839.0" y2="581.1"><stop offset="0" stop-color="#fff3a0" stop-opacity="1"/><stop offset="0.25" stop-color="#ffe88a" stop-opacity="1"/><stop offset="0.38" stop-color="#fcc440" stop-opacity="1"/><stop offset="0.5" stop-color="#f28a14" stop-opacity="1"/><stop offset="0.62" stop-color="#fcc440" stop-opacity="1"/><stop offset="0.8" stop-color="#ffe88a" stop-opacity="1"/><stop offset="1" stop-color="#fff3a0" stop-opacity="1"/></linearGradient>
<polygon points="583.3,585.1 611.0,580.1 651.0,577.1 681.0,573.1 698.2,566.1 706.0,573.1 711.0,574.1 731.0,572.1 751.0,573.1 771.0,575.1 801.0,578.1 837.5,580.1 837.5,584.1 801.0,584.1 751.0,584.1 731.0,589.1 720.3,604.5 716.0,593.1 711.0,587.1 691.0,585.1 651.0,586.1 611.0,589.1 583.3,591.1" fill="url(#g71)" fill-opacity="1"/>
<polygon points="651.0,580.1 681.0,577.1 698.2,567.1 705.0,575.1 711.0,577.1 731.0,577.1 756.0,580.1 781.0,581.1 756.0,583.1 731.0,587.1 720.3,603.1 715.0,591.1 711.0,585.1 681.0,584.1 651.0,583.1" fill="#f28a14" fill-opacity="0.8"/>
<radialGradient id="g72" gradientUnits="userSpaceOnUse" cx="711.0" cy="581.1" r="30" gradientTransform="translate(711.0 581.1) rotate(0) scale(1 0.2000) translate(-711.0 -581.1)"><stop offset="0" stop-color="#b84008" stop-opacity="0.8"/><stop offset="0.5" stop-color="#d86010" stop-opacity="0.5"/><stop offset="1" stop-color="#ec7c10" stop-opacity="0"/></radialGradient>
<ellipse cx="711.0" cy="581.1" rx="30" ry="6" transform="rotate(0 711.0 581.1)" fill="url(#g72)" fill-opacity="1"/>
</g>
<g filter="url(#soft)">
<radialGradient id="g73" gradientUnits="userSpaceOnUse" cx="972.3" cy="579.1" r="56"><stop offset="0" stop-color="#ea7a10" stop-opacity="1"/><stop offset="0.28" stop-color="#f29418" stop-opacity="1"/><stop offset="0.45" stop-color="#fbc040" stop-opacity="1"/><stop offset="0.65" stop-color="#fee27e" stop-opacity="1"/><stop offset="0.85" stop-color="#fff2a6" stop-opacity="1"/><stop offset="1" stop-color="#fffac8" stop-opacity="1"/></radialGradient>
<polygon points="875.3,582.3 899.3,578.5 929.8,572.4 960.3,563.3 1001.3,552.1 1011.8,548.1 1025.3,557.1 1014.8,571.1 1013.3,586.1 1025.3,607.1 1020.9,618.1 1005.7,604.1 984.3,597.1 969.3,595.1 929.8,592.1 899.3,586.1" fill="url(#g73)" fill-opacity="1"/>
<polygon points="948.3,577.1 969.3,566.4 987.3,568.1 995.3,575.5 984.3,586.1 978.3,599.8 970.8,592.1 954.3,584.6" fill="#ea7a10" fill-opacity="0.85"/>
<linearGradient id="g74" gradientUnits="userSpaceOnUse" x1="994.3" y1="575.1" x2="1025.0" y2="557.1"><stop offset="0" stop-color="#f29a1c" stop-opacity="1"/><stop offset="1" stop-color="#fdd860" stop-opacity="1"/></linearGradient>
<polygon points="1025.0,557.1 995.8,577.7 992.8,572.5" fill="url(#g74)" fill-opacity="0.65"/>
<linearGradient id="g75" gradientUnits="userSpaceOnUse" x1="994.3" y1="587.1" x2="1020.9" y2="618.1"><stop offset="0" stop-color="#f29a1c" stop-opacity="1"/><stop offset="1" stop-color="#fdd860" stop-opacity="1"/></linearGradient>
<polygon points="1020.9,618.1 992.0,589.1 996.6,585.1" fill="url(#g75)" fill-opacity="0.65"/>
</g>
<g filter="url(#soft)">
<polygon points="189.7,784.7 194.5,783.4 199.1,791.4 205.1,841.4 210.3,891.0 208.5,903.0 205.1,944.1 198.3,995.4 193.5,1004.1 189.7,1004.1 184.5,995.4 182.8,944.1 182.0,893.4 182.8,841.4 184.5,801.9" fill="#fff6a4" fill-opacity="1"/>
<polygon points="191.5,805.4 197.5,807.4 203.5,841.4 209.0,891.4 207.0,902.4 203.5,943.4 197.5,979.4 191.5,981.4 185.5,979.4 183.5,943.4 182.7,893.4 183.5,841.4 185.5,813.4" fill="#fcc440" fill-opacity="0.6"/>
<polygon points="190.5,815.4 197.5,817.4 202.5,853.4 208.5,892.4 206.5,902.4 202.5,933.4 197.5,969.4 190.5,970.4 184.0,933.4 183.0,893.4 184.0,853.4 186.5,823.4" fill="#f28a14" fill-opacity="0.95"/>
<polygon points="191.5,831.4 195.5,838.4 198.5,883.4 203.5,893.4 198.5,903.4 195.5,948.4 191.5,955.4 185.0,933.4 184.0,893.4 185.0,853.4" fill="#c84a08" fill-opacity="0.75"/>
<radialGradient id="g76" gradientUnits="userSpaceOnUse" cx="191.5" cy="893.4" r="7" gradientTransform="translate(191.5 893.4) rotate(0) scale(1 8.5714) translate(-191.5 -893.4)"><stop offset="0" stop-color="#4a0a10" stop-opacity="1"/><stop offset="0.35" stop-color="#6a0e0c" stop-opacity="0.9"/><stop offset="0.65" stop-color="#8a1a06" stop-opacity="0.6"/><stop offset="1" stop-color="#b03a08" stop-opacity="0"/></radialGradient>
<ellipse cx="191.5" cy="893.4" rx="7" ry="60" transform="rotate(0 191.5 893.4)" fill="url(#g76)" fill-opacity="1"/>
</g>
<g filter="url(#soft)">
<radialGradient id="g77" gradientUnits="userSpaceOnUse" cx="453.0" cy="893.4" r="125"><stop offset="0" stop-color="#e06a0e" stop-opacity="1"/><stop offset="0.25" stop-color="#f08a14" stop-opacity="1"/><stop offset="0.36" stop-color="#f6a020" stop-opacity="1"/><stop offset="0.46" stop-color="#fbc444" stop-opacity="1"/><stop offset="0.58" stop-color="#fee288" stop-opacity="1"/><stop offset="0.75" stop-color="#fff2a8" stop-opacity="1"/><stop offset="1" stop-color="#fffac8" stop-opacity="1"/></radialGradient>
<polygon points="420.0,771.4 429.0,780.4 445.0,818.4 451.0,836.4 458.0,835.4 462.0,842.4 493.5,787.7 483.0,842.4 521.4,823.6 505.7,853.8 542.8,837.6 516.0,873.4 517.0,884.0 524.0,894.9 563.0,921.0 518.5,920.4 540.0,941.9 510.0,936.4 525.4,958.7 489.4,937.9 490.6,957.6 493.0,977.9 486.0,966.9 490.0,1015.0 483.0,1005.4 454.6,943.4 449.0,951.4 444.4,948.4 439.8,934.4 412.0,998.8 422.4,943.7 381.7,965.1 398.0,933.2 362.0,948.9 387.5,919.4 388.7,914.6 390.0,906.4 386.4,898.4 384.1,893.4 343.4,864.8 386.4,866.6 363.7,844.0 391.0,848.4 376.5,830.6 414.2,849.4 419.0,848.4 412.5,809.7 420.0,820.4 418.0,793.4 417.0,775.4" fill="url(#g77)" fill-opacity="1"/>
<linearGradient id="g78" gradientUnits="userSpaceOnUse" x1="453.0" y1="893.4" x2="420.0" y2="771.4"><stop offset="0" stop-color="#fbc444" stop-opacity="1"/><stop offset="1" stop-color="#fff6a8" stop-opacity="1"/></linearGradient>
<polygon points="420.0,771.4 472.3,888.2 433.7,898.6" fill="url(#g78)" fill-opacity="0.6"/>
<linearGradient id="g79" gradientUnits="userSpaceOnUse" x1="453.0" y1="893.4" x2="490.0" y2="1015.0"><stop offset="0" stop-color="#fbc444" stop-opacity="1"/><stop offset="1" stop-color="#fff6a8" stop-opacity="1"/></linearGradient>
<polygon points="490.0,1015.0 433.9,899.2 472.1,887.6" fill="url(#g79)" fill-opacity="0.6"/>
<linearGradient id="g80" gradientUnits="userSpaceOnUse" x1="453.0" y1="893.4" x2="563.0" y2="921.0"><stop offset="0" stop-color="#fbc444" stop-opacity="1"/><stop offset="1" stop-color="#fff6a8" stop-opacity="1"/></linearGradient>
<polygon points="563.0,921.0 448.6,910.9 457.4,875.9" fill="url(#g80)" fill-opacity="0.6"/>
<linearGradient id="g81" gradientUnits="userSpaceOnUse" x1="453.0" y1="893.4" x2="343.4" y2="864.8"><stop offset="0" stop-color="#fbc444" stop-opacity="1"/><stop offset="1" stop-color="#fff6a8" stop-opacity="1"/></linearGradient>
<polygon points="343.4,864.8 457.0,877.9 449.0,908.9" fill="url(#g81)" fill-opacity="0.6"/>
<linearGradient id="g82" gradientUnits="userSpaceOnUse" x1="453.0" y1="893.4" x2="521.4" y2="823.6"><stop offset="0" stop-color="#f29a1c" stop-opacity="1"/><stop offset="1" stop-color="#fdd860" stop-opacity="1"/></linearGradient>
<polygon points="521.4,823.6 464.4,904.6 441.6,882.2" fill="url(#g82)" fill-opacity="0.65"/>
<linearGradient id="g83" gradientUnits="userSpaceOnUse" x1="453.0" y1="893.4" x2="542.8" y2="837.6"><stop offset="0" stop-color="#f29a1c" stop-opacity="1"/><stop offset="1" stop-color="#fdd860" stop-opacity="1"/></linearGradient>
<polygon points="542.8,837.6 461.4,907.0 444.6,879.8" fill="url(#g83)" fill-opacity="0.65"/>
<linearGradient id="g84" gradientUnits="userSpaceOnUse" x1="453.0" y1="893.4" x2="540.0" y2="941.9"><stop offset="0" stop-color="#f29a1c" stop-opacity="1"/><stop offset="1" stop-color="#fdd860" stop-opacity="1"/></linearGradient>
<polygon points="540.0,941.9 445.7,906.5 460.3,880.3" fill="url(#g84)" fill-opacity="0.65"/>
<linearGradient id="g85" gradientUnits="userSpaceOnUse" x1="453.0" y1="893.4" x2="525.4" y2="958.7"><stop offset="0" stop-color="#f29a1c" stop-opacity="1"/><stop offset="1" stop-color="#fdd860" stop-opacity="1"/></linearGradient>
<polygon points="525.4,958.7 443.0,904.5 463.0,882.3" fill="url(#g85)" fill-opacity="0.65"/>
<linearGradient id="g86" gradientUnits="userSpaceOnUse" x1="453.0" y1="893.4" x2="381.7" y2="965.1"><stop offset="0" stop-color="#f29a1c" stop-opacity="1"/><stop offset="1" stop-color="#fdd860" stop-opacity="1"/></linearGradient>
<polygon points="381.7,965.1 442.4,882.8 463.6,904.0" fill="url(#g86)" fill-opacity="0.65"/>
<linearGradient id="g87" gradientUnits="userSpaceOnUse" x1="453.0" y1="893.4" x2="362.0" y2="948.9"><stop offset="0" stop-color="#f29a1c" stop-opacity="1"/><stop offset="1" stop-color="#fdd860" stop-opacity="1"/></linearGradient>
<polygon points="362.0,948.9 445.2,880.6 460.8,906.2" fill="url(#g87)" fill-opacity="0.65"/>
<linearGradient id="g88" gradientUnits="userSpaceOnUse" x1="453.0" y1="893.4" x2="363.7" y2="844.0"><stop offset="0" stop-color="#f29a1c" stop-opacity="1"/><stop offset="1" stop-color="#fdd860" stop-opacity="1"/></linearGradient>
<polygon points="363.7,844.0 459.3,882.0 446.7,904.8" fill="url(#g88)" fill-opacity="0.65"/>
<linearGradient id="g89" gradientUnits="userSpaceOnUse" x1="453.0" y1="893.4" x2="493.5" y2="787.7"><stop offset="0" stop-color="#d8620c" stop-opacity="1"/><stop offset="1" stop-color="#f39018" stop-opacity="1"/></linearGradient>
<polygon points="493.5,787.7 467.0,898.8 439.0,888.0" fill="url(#g89)" fill-opacity="0.8"/>
<linearGradient id="g90" gradientUnits="userSpaceOnUse" x1="453.0" y1="893.4" x2="493.0" y2="977.9"><stop offset="0" stop-color="#d8620c" stop-opacity="1"/><stop offset="1" stop-color="#f39018" stop-opacity="1"/></linearGradient>
<polygon points="493.0,977.9 443.1,898.1 462.9,888.7" fill="url(#g90)" fill-opacity="0.8"/>
<linearGradient id="g91" gradientUnits="userSpaceOnUse" x1="453.0" y1="893.4" x2="412.0" y2="998.8"><stop offset="0" stop-color="#d8620c" stop-opacity="1"/><stop offset="1" stop-color="#f39018" stop-opacity="1"/></linearGradient>
<polygon points="412.0,998.8 440.9,888.7 465.1,898.1" fill="url(#g91)" fill-opacity="0.8"/>
<linearGradient id="g92" gradientUnits="userSpaceOnUse" x1="453.0" y1="893.4" x2="376.5" y2="830.6"><stop offset="0" stop-color="#d8620c" stop-opacity="1"/><stop offset="1" stop-color="#f39018" stop-opacity="1"/></linearGradient>
<polygon points="376.5,830.6 461.2,883.4 444.8,903.4" fill="url(#g92)" fill-opacity="0.8"/>
<linearGradient id="g93" gradientUnits="userSpaceOnUse" x1="453.0" y1="893.4" x2="412.5" y2="809.7"><stop offset="0" stop-color="#d8620c" stop-opacity="1"/><stop offset="1" stop-color="#f39018" stop-opacity="1"/></linearGradient>
<polygon points="412.5,809.7 463.8,888.2 442.2,898.6" fill="url(#g93)" fill-opacity="0.8"/>
<linearGradient id="g94" gradientUnits="userSpaceOnUse" x1="453.0" y1="893.4" x2="413.0" y2="826.0"><stop offset="0" stop-color="#d8620c" stop-opacity="1"/><stop offset="1" stop-color="#f39018" stop-opacity="1"/></linearGradient>
<polygon points="413.0,826.0 460.7,888.8 445.3,898.0" fill="url(#g94)" fill-opacity="0.8"/>
<radialGradient id="g95" gradientUnits="userSpaceOnUse" cx="453.0" cy="893.4" r="58" gradientTransform="translate(453.0 893.4) rotate(0) scale(1 0.4138) translate(-453.0 -893.4)"><stop offset="0" stop-color="#6a0e0c" stop-opacity="0.9"/><stop offset="0.3" stop-color="#8a1a08" stop-opacity="0.8"/><stop offset="0.55" stop-color="#b83c08" stop-opacity="0.6"/><stop offset="0.8" stop-color="#d86010" stop-opacity="0.3"/><stop offset="1" stop-color="#e0680c" stop-opacity="0"/></radialGradient>
<ellipse cx="453.0" cy="893.4" rx="58" ry="24" transform="rotate(35 453.0 893.4)" fill="url(#g95)" fill-opacity="1"/>
<radialGradient id="g96" gradientUnits="userSpaceOnUse" cx="453.0" cy="893.4" r="58" gradientTransform="translate(453.0 893.4) rotate(0) scale(1 0.4138) translate(-453.0 -893.4)"><stop offset="0" stop-color="#6a0e0c" stop-opacity="0.9"/><stop offset="0.3" stop-color="#8a1a08" stop-opacity="0.8"/><stop offset="0.55" stop-color="#b83c08" stop-opacity="0.6"/><stop offset="0.8" stop-color="#d86010" stop-opacity="0.3"/><stop offset="1" stop-color="#e0680c" stop-opacity="0"/></radialGradient>
<ellipse cx="453.0" cy="893.4" rx="58" ry="24" transform="rotate(-42 453.0 893.4)" fill="url(#g96)" fill-opacity="1"/>
<radialGradient id="g97" gradientUnits="userSpaceOnUse" cx="453.0" cy="893.4" r="46"><stop offset="0.0" stop-color="#3c0812" stop-opacity="1"/><stop offset="0.1" stop-color="#5e0c0c" stop-opacity="0.95"/><stop offset="0.28" stop-color="#8a1a06" stop-opacity="0.85"/><stop offset="0.5" stop-color="#b84008" stop-opacity="0.65"/><stop offset="0.75" stop-color="#d8640c" stop-opacity="0.35"/><stop offset="1.0" stop-color="#f08a14" stop-opacity="0"/></radialGradient>
<ellipse cx="453.0" cy="893.4" rx="46" ry="46" transform="rotate(0 453.0 893.4)" fill="url(#g97)" fill-opacity="1"/>
</g>
<g filter="url(#soft)">
<radialGradient id="g98" gradientUnits="userSpaceOnUse" cx="711.0" cy="893.4" r="52"><stop offset="0" stop-color="#f8b030" stop-opacity="1"/><stop offset="0.3" stop-color="#fcd860" stop-opacity="1"/><stop offset="0.55" stop-color="#feea90" stop-opacity="1"/><stop offset="0.8" stop-color="#fff7bc" stop-opacity="1"/><stop offset="1" stop-color="#fffdd8" stop-opacity="1"/></radialGradient>
<polygon points="701.0,849.4 683.1,851.1 671.0,855.4 664.0,861.8 660.6,885.4 665.0,898.4 669.0,913.4 681.0,923.4 691.0,929.4 699.0,929.4 705.0,893.4" fill="url(#g98)" fill-opacity="0.95"/>
<polygon points="727.0,877.4 739.0,879.4 745.0,888.4 744.0,906.4 743.8,918.4 736.0,927.4 727.0,931.1 719.0,913.4" fill="url(#g98)" fill-opacity="0.95"/>
<linearGradient id="g99" gradientUnits="userSpaceOnUse" x1="711.0" y1="893.4" x2="711.0" y2="783.4"><stop offset="0" stop-color="#9a2406" stop-opacity="1"/><stop offset="0.25" stop-color="#c84a08" stop-opacity="1"/><stop offset="0.5" stop-color="#e87a10" stop-opacity="1"/><stop offset="0.8" stop-color="#f28a14" stop-opacity="1"/><stop offset="1" stop-color="#f49a1c" stop-opacity="1"/></linearGradient>
<polygon points="690.1,784.4 699.0,813.4 706.0,832.7 709.0,848.4 711.0,873.4 711.0,893.4 693.1,888.4 698.3,872.0 697.4,854.9 695.7,837.8 688.0,793.7 689.5,796.4" fill="url(#g99)" fill-opacity="0.95"/>
<linearGradient id="g100" gradientUnits="userSpaceOnUse" x1="711.0" y1="893.4" x2="711.0" y2="793.4"><stop offset="0" stop-color="#b03a08" stop-opacity="1"/><stop offset="0.2" stop-color="#d45a0a" stop-opacity="1"/><stop offset="0.45" stop-color="#f08a14" stop-opacity="1"/><stop offset="0.75" stop-color="#f8b030" stop-opacity="1"/><stop offset="1" stop-color="#fde080" stop-opacity="1"/></linearGradient>
<polygon points="711.0,893.4 711.0,853.4 712.0,794.4 720.5,795.4 721.0,823.4 722.2,826.7 732.0,798.0 730.0,823.4 735.0,831.4 743.6,803.6 745.5,807.4 735.9,863.4 734.0,880.6 723.0,889.4" fill="url(#g100)" fill-opacity="0.95"/>
<polygon points="712.0,794.4 720.5,795.4 719.0,833.4 713.0,838.4" fill="#fff6b0" fill-opacity="0.85"/>
<polygon points="735.0,831.4 743.6,803.6 745.5,807.4 739.0,848.4 735.9,863.4" fill="#fee690" fill-opacity="0.8"/>
<polygon points="722.2,826.7 732.0,798.0 730.0,823.4 723.0,863.4 716.0,873.4" fill="#f39418" fill-opacity="0.85"/>
<linearGradient id="g101" gradientUnits="userSpaceOnUse" x1="711.0" y1="893.4" x2="711.0" y2="999.4"><stop offset="0" stop-color="#9a2406" stop-opacity="1"/><stop offset="0.2" stop-color="#c84a08" stop-opacity="1"/><stop offset="0.45" stop-color="#e87a10" stop-opacity="1"/><stop offset="0.65" stop-color="#f29016" stop-opacity="1"/><stop offset="0.85" stop-color="#fcc848" stop-opacity="1"/><stop offset="1" stop-color="#fee890" stop-opacity="1"/></linearGradient>
<polygon points="711.0,895.4 693.4,899.9 691.7,922.1 681.4,960.6 686.0,965.4 681.4,986.3 691.7,982.0 695.0,971.4 700.6,1001.7 708.8,952.9 710.5,943.4 711.0,913.4" fill="url(#g101)" fill-opacity="0.95"/>
<linearGradient id="g102" gradientUnits="userSpaceOnUse" x1="711.0" y1="893.4" x2="711.0" y2="1001.4"><stop offset="0" stop-color="#9a2406" stop-opacity="1"/><stop offset="0.2" stop-color="#c84a08" stop-opacity="1"/><stop offset="0.45" stop-color="#e87a10" stop-opacity="1"/><stop offset="0.7" stop-color="#f28a14" stop-opacity="1"/><stop offset="1" stop-color="#f6a424" stop-opacity="1"/></linearGradient>
<polygon points="712.0,895.4 723.0,897.4 725.0,913.6 725.9,926.4 729.0,958.4 734.4,998.3 731.9,1002.4 721.0,973.4 712.2,947.8 711.5,923.4" fill="url(#g102)" fill-opacity="0.95"/>
<linearGradient id="g103" gradientUnits="userSpaceOnUse" x1="694.0" y1="893.4" x2="726.0" y2="893.4"><stop offset="0" stop-color="#e87a10" stop-opacity="1"/><stop offset="0.25" stop-color="#c04a08" stop-opacity="1"/><stop offset="0.5" stop-color="#8a1a08" stop-opacity="1"/><stop offset="0.75" stop-color="#c04a08" stop-opacity="1"/><stop offset="1" stop-color="#e87a10" stop-opacity="1"/></linearGradient>
<polygon points="693.1,887.4 703.0,881.4 719.0,881.4 725.0,888.4 725.0,898.4 719.0,905.4 703.0,905.4 693.4,900.4" fill="url(#g103)" fill-opacity="0.9"/>
<radialGradient id="g104" gradientUnits="userSpaceOnUse" cx="710.0" cy="891.4" r="13" gradientTransform="translate(710.0 891.4) rotate(0) scale(1 3.2308) translate(-710.0 -891.4)"><stop offset="0" stop-color="#3c0812" stop-opacity="1"/><stop offset="0.3" stop-color="#520c14" stop-opacity="1"/><stop offset="0.55" stop-color="#6e0e10" stop-opacity="0.9"/><stop offset="0.8" stop-color="#9a2406" stop-opacity="0.55"/><stop offset="1" stop-color="#c04a08" stop-opacity="0"/></radialGradient>
<ellipse cx="710.0" cy="891.4" rx="13" ry="42" transform="rotate(0 710.0 891.4)" fill="url(#g104)" fill-opacity="1"/>
</g>
<g filter="url(#soft)">
<radialGradient id="g105" gradientUnits="userSpaceOnUse" cx="969.3" cy="893.4" r="32"><stop offset="0" stop-color="#c04608" stop-opacity="1"/><stop offset="0.3" stop-color="#ec7c10" stop-opacity="1"/><stop offset="0.55" stop-color="#f8a424" stop-opacity="1"/><stop offset="0.8" stop-color="#fcd050" stop-opacity="1"/><stop offset="1" stop-color="#fff09a" stop-opacity="1"/></radialGradient>
<polygon points="938.5,882.0 951.3,883.4 959.3,879.4 965.8,871.9 969.3,875.4 975.3,874.4 978.3,881.4 981.3,890.4 984.3,895.4 991.3,903.4 982.3,903.4 979.3,909.4 973.3,915.4 967.3,915.4 961.3,918.4 951.3,918.4 945.3,908.4 943.3,901.4 949.3,895.4 955.3,893.4 949.3,889.4" fill="url(#g105)" fill-opacity="1"/>
<radialGradient id="g106" gradientUnits="userSpaceOnUse" cx="969.3" cy="893.4" r="8"><stop offset="0" stop-color="#4a0a10" stop-opacity="1"/><stop offset="0.5" stop-color="#8a1a06" stop-opacity="0.6"/><stop offset="1" stop-color="#c04608" stop-opacity="0"/></radialGradient>
<ellipse cx="969.3" cy="893.4" rx="8" ry="8" transform="rotate(0 969.3 893.4)" fill="url(#g106)" fill-opacity="1"/>
</g>
<g filter="url(#soft)">
<radialGradient id="g107" gradientUnits="userSpaceOnUse" cx="194.5" cy="1205.5" r="21"><stop offset="0" stop-color="#d86010" stop-opacity="1"/><stop offset="0.35" stop-color="#f08a14" stop-opacity="1"/><stop offset="0.65" stop-color="#f6a21e" stop-opacity="1"/><stop offset="0.85" stop-color="#fcc848" stop-opacity="1"/><stop offset="1" stop-color="#fde070" stop-opacity="1"/></radialGradient>
<polygon points="179.7,1191.9 185.5,1190.5 192.6,1194.7 195.4,1196.1 204.0,1194.4 209.0,1199.7 209.0,1214.0 199.7,1216.9 195.4,1214.7 192.6,1217.6 181.1,1222.6 180.5,1214.7 181.9,1204.7" fill="url(#g107)" fill-opacity="1"/>
</g>
<g filter="url(#soft)">
<radialGradient id="g108" gradientUnits="userSpaceOnUse" cx="453.0" cy="1205.5" r="25"><stop offset="0" stop-color="#c04a08" stop-opacity="1"/><stop offset="0.12" stop-color="#e87a10" stop-opacity="1"/><stop offset="0.45" stop-color="#f29418" stop-opacity="1"/><stop offset="0.7" stop-color="#f8b030" stop-opacity="1"/><stop offset="0.85" stop-color="#fde070" stop-opacity="1"/><stop offset="1" stop-color="#fff3a0" stop-opacity="1"/></radialGradient>
<polygon points="432.3,1202.5 435.0,1193.5 443.0,1189.5 450.0,1181.9 458.0,1183.5 467.0,1189.5 470.0,1197.5 472.3,1200.5 470.0,1207.5 471.0,1215.5 468.0,1223.5 461.0,1230.5 453.0,1229.5 445.0,1223.5 439.0,1215.5 433.0,1209.5" fill="url(#g108)" fill-opacity="1"/>
</g>
<g filter="url(#soft)">
<polygon points="641.0,1208.1 658.0,1205.5 663.0,1202.5 681.0,1199.7 711.0,1199.5 731.0,1200.5 756.0,1202.0 799.0,1203.0 799.0,1205.0 756.0,1207.5 756.4,1210.5 741.0,1212.5 711.0,1212.6 681.0,1211.5 663.0,1208.5 658.0,1208.1" fill="#fcc440" fill-opacity="0.8"/>
<polygon points="662.3,1205.5 671.0,1201.5 691.0,1200.0 711.0,1199.7 731.0,1201.0 756.0,1203.0 771.0,1204.0 756.0,1206.5 756.4,1210.0 741.0,1212.0 711.0,1212.3 691.0,1211.5 671.0,1209.5" fill="#f28a14" fill-opacity="0.9"/>
<polygon points="671.0,1205.0 691.0,1203.5 711.0,1203.0 731.0,1203.5 751.0,1204.5 751.0,1206.5 731.0,1207.5 711.0,1208.0 691.0,1207.5 671.0,1206.5" fill="#9a2406" fill-opacity="0.8"/>
<radialGradient id="g109" gradientUnits="userSpaceOnUse" cx="711.0" cy="1205.5" r="25" gradientTransform="translate(711.0 1205.5) rotate(0) scale(1 0.1200) translate(-711.0 -1205.5)"><stop offset="0" stop-color="#3c0812" stop-opacity="1"/><stop offset="0.5" stop-color="#6a0e0c" stop-opacity="0.7"/><stop offset="1" stop-color="#9a2406" stop-opacity="0"/></radialGradient>
<ellipse cx="711.0" cy="1205.5" rx="25" ry="3" transform="rotate(0 711.0 1205.5)" fill="url(#g109)" fill-opacity="1"/>
</g>
<g filter="url(#soft)">
<radialGradient id="g110" gradientUnits="userSpaceOnUse" cx="969.3" cy="1205.5" r="100"><stop offset="0.0" stop-color="#d85a0c" stop-opacity="1"/><stop offset="0.3" stop-color="#ec7a10" stop-opacity="1"/><stop offset="0.45" stop-color="#f29016" stop-opacity="1"/><stop offset="0.58" stop-color="#f8ac2a" stop-opacity="1"/><stop offset="0.7" stop-color="#fcd050" stop-opacity="1"/><stop offset="0.85" stop-color="#fee890" stop-opacity="1"/><stop offset="1.0" stop-color="#fff6b0" stop-opacity="1"/></radialGradient>
<polygon points="971.3,1156.5 976.6,1161.5 994.7,1113.1 995.3,1155.0 1021.0,1147.5 1017.8,1163.5 1038.3,1161.9 1026.3,1186.5 1037.8,1190.0 1034.3,1196.5 1096.0,1192.0 1096.3,1194.5 1049.3,1205.5 1049.7,1215.0 1020.3,1226.2 1026.6,1257.5 1024.1,1265.0 1026.3,1267.5 1012.8,1282.5 1007.3,1286.9 996.3,1280.0 976.6,1261.2 969.3,1267.5 959.3,1282.5 946.6,1296.9 939.3,1242.5 900.3,1266.9 914.3,1246.2 891.6,1250.5 914.1,1228.7 896.6,1223.1 842.3,1228.2 842.3,1224.2 897.9,1211.2 882.8,1205.5 889.3,1195.0 891.6,1190.0 921.6,1177.5 914.3,1147.5 917.8,1133.7 924.3,1143.5 931.6,1123.7 955.3,1163.7 964.1,1155.0" fill="url(#g110)" fill-opacity="1"/>
<linearGradient id="g111" gradientUnits="userSpaceOnUse" x1="969.3" y1="1205.5" x2="946.6" y2="1296.9"><stop offset="0" stop-color="#fbc444" stop-opacity="1"/><stop offset="1" stop-color="#fff6a8" stop-opacity="1"/></linearGradient>
<polygon points="946.6,1296.9 955.7,1202.1 982.9,1208.9" fill="url(#g111)" fill-opacity="0.6"/>
<linearGradient id="g112" gradientUnits="userSpaceOnUse" x1="969.3" y1="1205.5" x2="1026.3" y2="1267.5"><stop offset="0" stop-color="#fbc444" stop-opacity="1"/><stop offset="1" stop-color="#fff6a8" stop-opacity="1"/></linearGradient>
<polygon points="1026.3,1267.5 959.0,1215.0 979.6,1196.0" fill="url(#g112)" fill-opacity="0.6"/>
<linearGradient id="g113" gradientUnits="userSpaceOnUse" x1="969.3" y1="1205.5" x2="917.8" y2="1133.7"><stop offset="0" stop-color="#fbc444" stop-opacity="1"/><stop offset="1" stop-color="#fff6a8" stop-opacity="1"/></linearGradient>
<polygon points="917.8,1133.7 979.1,1198.5 959.5,1212.5" fill="url(#g113)" fill-opacity="0.6"/>
<linearGradient id="g114" gradientUnits="userSpaceOnUse" x1="969.3" y1="1205.5" x2="1049.7" y2="1215.0"><stop offset="0" stop-color="#fbc444" stop-opacity="1"/><stop offset="1" stop-color="#fff6a8" stop-opacity="1"/></linearGradient>
<polygon points="1049.7,1215.0 968.1,1215.4 970.5,1195.6" fill="url(#g114)" fill-opacity="0.6"/>
<linearGradient id="g115" gradientUnits="userSpaceOnUse" x1="969.3" y1="1205.5" x2="959.3" y2="1282.5"><stop offset="0" stop-color="#fbc444" stop-opacity="1"/><stop offset="1" stop-color="#fff6a8" stop-opacity="1"/></linearGradient>
<polygon points="959.3,1282.5 959.4,1204.2 979.2,1206.8" fill="url(#g115)" fill-opacity="0.6"/>
<linearGradient id="g116" gradientUnits="userSpaceOnUse" x1="969.3" y1="1205.5" x2="914.3" y2="1147.5"><stop offset="0" stop-color="#f29a1c" stop-opacity="1"/><stop offset="1" stop-color="#fdd860" stop-opacity="1"/></linearGradient>
<polygon points="914.3,1147.5 978.0,1197.2 960.6,1213.8" fill="url(#g116)" fill-opacity="0.65"/>
<linearGradient id="g117" gradientUnits="userSpaceOnUse" x1="969.3" y1="1205.5" x2="931.6" y2="1123.7"><stop offset="0" stop-color="#f29a1c" stop-opacity="1"/><stop offset="1" stop-color="#fdd860" stop-opacity="1"/></linearGradient>
<polygon points="931.6,1123.7 980.2,1200.5 958.4,1210.5" fill="url(#g117)" fill-opacity="0.65"/>
<linearGradient id="g118" gradientUnits="userSpaceOnUse" x1="969.3" y1="1205.5" x2="1021.0" y2="1147.5"><stop offset="0" stop-color="#f29a1c" stop-opacity="1"/><stop offset="1" stop-color="#fdd860" stop-opacity="1"/></linearGradient>
<polygon points="1021.0,1147.5 979.8,1214.8 958.8,1196.2" fill="url(#g118)" fill-opacity="0.65"/>
<linearGradient id="g119" gradientUnits="userSpaceOnUse" x1="969.3" y1="1205.5" x2="1038.3" y2="1161.9"><stop offset="0" stop-color="#f29a1c" stop-opacity="1"/><stop offset="1" stop-color="#fdd860" stop-opacity="1"/></linearGradient>
<polygon points="1038.3,1161.9 976.8,1217.3 961.8,1193.7" fill="url(#g119)" fill-opacity="0.65"/>
<linearGradient id="g120" gradientUnits="userSpaceOnUse" x1="939.3" y1="1209.5" x2="842.3" y2="1226.2"><stop offset="0" stop-color="#f29a1c" stop-opacity="1"/><stop offset="1" stop-color="#fdd860" stop-opacity="1"/></linearGradient>
<polygon points="842.3,1226.2 938.5,1204.6 940.1,1214.4" fill="url(#g120)" fill-opacity="0.65"/>
<linearGradient id="g121" gradientUnits="userSpaceOnUse" x1="999.3" y1="1202.5" x2="1096.0" y2="1193.0"><stop offset="0" stop-color="#f29a1c" stop-opacity="1"/><stop offset="1" stop-color="#fdd860" stop-opacity="1"/></linearGradient>
<polygon points="1096.0,1193.0 999.8,1207.5 998.8,1197.5" fill="url(#g121)" fill-opacity="0.65"/>
<linearGradient id="g122" gradientUnits="userSpaceOnUse" x1="969.3" y1="1205.5" x2="883.3" y2="1205.5"><stop offset="0" stop-color="#f29a1c" stop-opacity="1"/><stop offset="1" stop-color="#fdd860" stop-opacity="1"/></linearGradient>
<polygon points="883.3,1205.5 969.3,1193.5 969.3,1217.5" fill="url(#g122)" fill-opacity="0.65"/>
<linearGradient id="g123" gradientUnits="userSpaceOnUse" x1="969.3" y1="1205.5" x2="896.6" y2="1223.1"><stop offset="0" stop-color="#f29a1c" stop-opacity="1"/><stop offset="1" stop-color="#fdd860" stop-opacity="1"/></linearGradient>
<polygon points="896.6,1223.1 966.9,1195.8 971.7,1215.2" fill="url(#g123)" fill-opacity="0.65"/>
<linearGradient id="g124" gradientUnits="userSpaceOnUse" x1="969.3" y1="1205.5" x2="994.7" y2="1113.1"><stop offset="0" stop-color="#d8620c" stop-opacity="1"/><stop offset="1" stop-color="#f39018" stop-opacity="1"/></linearGradient>
<polygon points="994.7,1113.1 982.8,1209.2 955.8,1201.8" fill="url(#g124)" fill-opacity="0.8"/>
<linearGradient id="g125" gradientUnits="userSpaceOnUse" x1="969.3" y1="1205.5" x2="891.6" y2="1250.5"><stop offset="0" stop-color="#d8620c" stop-opacity="1"/><stop offset="1" stop-color="#f39018" stop-opacity="1"/></linearGradient>
<polygon points="891.6,1250.5 963.3,1195.1 975.3,1215.9" fill="url(#g125)" fill-opacity="0.8"/>
<linearGradient id="g126" gradientUnits="userSpaceOnUse" x1="969.3" y1="1205.5" x2="900.3" y2="1266.9"><stop offset="0" stop-color="#d8620c" stop-opacity="1"/><stop offset="1" stop-color="#f39018" stop-opacity="1"/></linearGradient>
<polygon points="900.3,1266.9 961.3,1196.5 977.3,1214.5" fill="url(#g126)" fill-opacity="0.8"/>
<linearGradient id="g127" gradientUnits="userSpaceOnUse" x1="969.3" y1="1205.5" x2="1007.3" y2="1286.9"><stop offset="0" stop-color="#d8620c" stop-opacity="1"/><stop offset="1" stop-color="#f39018" stop-opacity="1"/></linearGradient>
<polygon points="1007.3,1286.9 963.0,1208.5 975.6,1202.5" fill="url(#g127)" fill-opacity="0.8"/>
<linearGradient id="g128" gradientUnits="userSpaceOnUse" x1="969.3" y1="1205.5" x2="1024.1" y2="1265.0"><stop offset="0" stop-color="#d8620c" stop-opacity="1"/><stop offset="1" stop-color="#f39018" stop-opacity="1"/></linearGradient>
<polygon points="1024.1,1265.0 964.2,1210.2 974.4,1200.8" fill="url(#g128)" fill-opacity="0.8"/>
<linearGradient id="g129" gradientUnits="userSpaceOnUse" x1="969.3" y1="1205.5" x2="889.3" y2="1197.5"><stop offset="0" stop-color="#d8620c" stop-opacity="1"/><stop offset="1" stop-color="#f39018" stop-opacity="1"/></linearGradient>
<polygon points="889.3,1197.5 970.3,1195.5 968.3,1215.5" fill="url(#g129)" fill-opacity="0.8"/>
<linearGradient id="g130" gradientUnits="userSpaceOnUse" x1="969.3" y1="1205.5" x2="1029.3" y2="1180.5"><stop offset="0" stop-color="#d8620c" stop-opacity="1"/><stop offset="1" stop-color="#f39018" stop-opacity="1"/></linearGradient>
<polygon points="1029.3,1180.5 974.7,1218.4 963.9,1192.6" fill="url(#g130)" fill-opacity="0.8"/>
<linearGradient id="g131" gradientUnits="userSpaceOnUse" x1="969.3" y1="1205.5" x2="1009.3" y2="1150.5"><stop offset="0" stop-color="#d8620c" stop-opacity="1"/><stop offset="1" stop-color="#f39018" stop-opacity="1"/></linearGradient>
<polygon points="1009.3,1150.5 980.6,1213.7 958.0,1197.3" fill="url(#g131)" fill-opacity="0.8"/>
<linearGradient id="g132" gradientUnits="userSpaceOnUse" x1="969.3" y1="1205.5" x2="921.6" y2="1177.5"><stop offset="0" stop-color="#d8620c" stop-opacity="1"/><stop offset="1" stop-color="#f39018" stop-opacity="1"/></linearGradient>
<polygon points="921.6,1177.5 976.4,1193.4 962.2,1217.6" fill="url(#g132)" fill-opacity="0.8"/>
<linearGradient id="g133" gradientUnits="userSpaceOnUse" x1="969.3" y1="1205.5" x2="939.3" y2="1242.5"><stop offset="0" stop-color="#d8620c" stop-opacity="1"/><stop offset="1" stop-color="#f39018" stop-opacity="1"/></linearGradient>
<polygon points="939.3,1242.5 960.0,1197.9 978.6,1213.1" fill="url(#g133)" fill-opacity="0.8"/>
<radialGradient id="g134" gradientUnits="userSpaceOnUse" cx="951.3" cy="1217.5" r="26" gradientTransform="translate(951.3 1217.5) rotate(0) scale(1 0.4615) translate(-951.3 -1217.5)"><stop offset="0" stop-color="#8a1a08" stop-opacity="0.55"/><stop offset="0.5" stop-color="#b03a08" stop-opacity="0.35"/><stop offset="1" stop-color="#d05a0c" stop-opacity="0"/></radialGradient>
<ellipse cx="951.3" cy="1217.5" rx="26" ry="12" transform="rotate(-30 951.3 1217.5)" fill="url(#g134)" fill-opacity="1"/>
<radialGradient id="g135" gradientUnits="userSpaceOnUse" cx="985.3" cy="1191.5" r="26" gradientTransform="translate(985.3 1191.5) rotate(0) scale(1 0.4615) translate(-985.3 -1191.5)"><stop offset="0" stop-color="#8a1a08" stop-opacity="0.55"/><stop offset="0.5" stop-color="#b03a08" stop-opacity="0.35"/><stop offset="1" stop-color="#d05a0c" stop-opacity="0"/></radialGradient>
<ellipse cx="985.3" cy="1191.5" rx="26" ry="12" transform="rotate(-35 985.3 1191.5)" fill="url(#g135)" fill-opacity="1"/>
<radialGradient id="g136" gradientUnits="userSpaceOnUse" cx="983.3" cy="1219.5" r="22" gradientTransform="translate(983.3 1219.5) rotate(0) scale(1 0.4545) translate(-983.3 -1219.5)"><stop offset="0" stop-color="#8a1a08" stop-opacity="0.55"/><stop offset="0.5" stop-color="#b03a08" stop-opacity="0.35"/><stop offset="1" stop-color="#d05a0c" stop-opacity="0"/></radialGradient>
<ellipse cx="983.3" cy="1219.5" rx="22" ry="10" transform="rotate(50 983.3 1219.5)" fill="url(#g136)" fill-opacity="1"/>
<radialGradient id="g137" gradientUnits="userSpaceOnUse" cx="955.3" cy="1191.5" r="22" gradientTransform="translate(955.3 1191.5) rotate(0) scale(1 0.4545) translate(-955.3 -1191.5)"><stop offset="0" stop-color="#8a1a08" stop-opacity="0.55"/><stop offset="0.5" stop-color="#b03a08" stop-opacity="0.35"/><stop offset="1" stop-color="#d05a0c" stop-opacity="0"/></radialGradient>
<ellipse cx="955.3" cy="1191.5" rx="22" ry="10" transform="rotate(45 955.3 1191.5)" fill="url(#g137)" fill-opacity="1"/>
<radialGradient id="g138" gradientUnits="userSpaceOnUse" cx="991.3" cy="1203.5" r="22" gradientTransform="translate(991.3 1203.5) rotate(0) scale(1 0.4091) translate(-991.3 -1203.5)"><stop offset="0" stop-color="#8a1a08" stop-opacity="0.55"/><stop offset="0.5" stop-color="#b03a08" stop-opacity="0.35"/><stop offset="1" stop-color="#d05a0c" stop-opacity="0"/></radialGradient>
<ellipse cx="991.3" cy="1203.5" rx="22" ry="9" transform="rotate(-10 991.3 1203.5)" fill="url(#g138)" fill-opacity="1"/>
<radialGradient id="g139" gradientUnits="userSpaceOnUse" cx="947.3" cy="1209.5" r="20" gradientTransform="translate(947.3 1209.5) rotate(0) scale(1 0.4500) translate(-947.3 -1209.5)"><stop offset="0" stop-color="#8a1a08" stop-opacity="0.55"/><stop offset="0.5" stop-color="#b03a08" stop-opacity="0.35"/><stop offset="1" stop-color="#d05a0c" stop-opacity="0"/></radialGradient>
<ellipse cx="947.3" cy="1209.5" rx="20" ry="9" transform="rotate(-15 947.3 1209.5)" fill="url(#g139)" fill-opacity="1"/>
<radialGradient id="g140" gradientUnits="userSpaceOnUse" cx="969.3" cy="1205.5" r="52"><stop offset="0.0" stop-color="#4a0a16" stop-opacity="1"/><stop offset="0.3" stop-color="#520c1a" stop-opacity="1"/><stop offset="0.42" stop-color="#6e0e12" stop-opacity="1"/><stop offset="0.55" stop-color="#962008" stop-opacity="0.95"/><stop offset="0.7" stop-color="#c04a08" stop-opacity="0.85"/><stop offset="0.85" stop-color="#e06a0c" stop-opacity="0.45"/><stop offset="1.0" stop-color="#f08a14" stop-opacity="0"/></radialGradient>
<ellipse cx="969.3" cy="1205.5" rx="52" ry="52" transform="rotate(0 969.3 1205.5)" fill="url(#g140)" fill-opacity="1"/>
<radialGradient id="g141" gradientUnits="userSpaceOnUse" cx="962.3" cy="1201.5" r="24" gradientTransform="translate(962.3 1201.5) rotate(0) scale(1 0.6667) translate(-962.3 -1201.5)"><stop offset="0" stop-color="#520c1a" stop-opacity="0.75"/><stop offset="0.6" stop-color="#6e0e12" stop-opacity="0.45"/><stop offset="1" stop-color="#8a1a08" stop-opacity="0"/></radialGradient>
<ellipse cx="962.3" cy="1201.5" rx="24" ry="16" transform="rotate(-20 962.3 1201.5)" fill="url(#g141)" fill-opacity="1"/>
<radialGradient id="g142" gradientUnits="userSpaceOnUse" cx="978.3" cy="1208.5" r="24" gradientTransform="translate(978.3 1208.5) rotate(0) scale(1 0.6250) translate(-978.3 -1208.5)"><stop offset="0" stop-color="#520c1a" stop-opacity="0.75"/><stop offset="0.6" stop-color="#6e0e12" stop-opacity="0.45"/><stop offset="1" stop-color="#8a1a08" stop-opacity="0"/></radialGradient>
<ellipse cx="978.3" cy="1208.5" rx="24" ry="15" transform="rotate(25 978.3 1208.5)" fill="url(#g142)" fill-opacity="1"/>
</g>
<line x1="89" y1="66.7" x2="563" y2="66.7" stroke="#141414" stroke-width="1.6"/>
<line x1="89" y1="140.6" x2="563" y2="140.6" stroke="#141414" stroke-width="1.6"/>
<line x1="605.5" y1="66.7" x2="1079.2" y2="66.7" stroke="#141414" stroke-width="1.6"/>
<line x1="605.5" y1="140.6" x2="1079.2" y2="140.6" stroke="#141414" stroke-width="1.6"/>
<g style="font-family:'Liberation Serif',serif" fill="#000">
<text x="154.8" y="43.0" font-size="42.5" textLength="340.5" lengthAdjust="spacingAndGlyphs" >Cu-PHE-PHEOME</text>
<text x="701.8" y="43.0" font-size="42.5" textLength="279.2" lengthAdjust="spacingAndGlyphs" >Cu-PHE-XANT</text>
<text x="132.8" y="117.0" font-size="42.5" textLength="121.4" lengthAdjust="spacingAndGlyphs" >State 9</text>
<text x="381.0" y="117.0" font-size="42.5" textLength="141.1" lengthAdjust="spacingAndGlyphs" >State 10</text>
<text x="648.8" y="117.0" font-size="42.5" textLength="122.2" lengthAdjust="spacingAndGlyphs" >State 3</text>
<text x="898.1" y="117.0" font-size="42.5" textLength="141.1" lengthAdjust="spacingAndGlyphs" >State 10</text>
<text transform="translate(43.2,444.7) rotate(-90)" x="0" y="0" font-size="42.5" textLength="291.4" lengthAdjust="spacingAndGlyphs">Cu-PHE-Ligand</text>
<text transform="translate(47.6,604.3) rotate(-90)" x="0" y="0" font-size="42.5" textLength="54.7" lengthAdjust="spacingAndGlyphs">Cu</text>
<text transform="translate(47.5,934.3) rotate(-90)" x="0" y="0" font-size="42.5" textLength="83.7" lengthAdjust="spacingAndGlyphs">PHE</text>
<text transform="translate(42.6,1278.8) rotate(-90)" x="0" y="0" font-size="42.5" textLength="128.6" lengthAdjust="spacingAndGlyphs">Ligand</text>
</g>
<line x1="78.8" y1="320.5" x2="310.2" y2="320.5" stroke="#000" stroke-opacity="0.6" stroke-width="1.25"/>
<line x1="194.5" y1="204.9" x2="194.5" y2="436.1" stroke="#000" stroke-opacity="0.6" stroke-width="1.25"/>
<line x1="337.3" y1="320.5" x2="568.7" y2="320.5" stroke="#000" stroke-opacity="0.6" stroke-width="1.25"/>
<line x1="453.0" y1="204.9" x2="453.0" y2="436.1" stroke="#000" stroke-opacity="0.6" stroke-width="1.25"/>
<line x1="595.3" y1="320.5" x2="826.7" y2="320.5" stroke="#000" stroke-opacity="0.6" stroke-width="1.25"/>
<line x1="711.0" y1="204.9" x2="711.0" y2="436.1" stroke="#000" stroke-opacity="0.6" stroke-width="1.25"/>
<line x1="853.6" y1="320.5" x2="1085.0" y2="320.5" stroke="#000" stroke-opacity="0.6" stroke-width="1.25"/>
<line x1="969.3" y1="204.9" x2="969.3" y2="436.1" stroke="#000" stroke-opacity="0.6" stroke-width="1.25"/>
<line x1="78.8" y1="581.1" x2="310.2" y2="581.1" stroke="#000" stroke-opacity="0.6" stroke-width="1.25"/>
<line x1="194.5" y1="465.5" x2="194.5" y2="696.7" stroke="#000" stroke-opacity="0.6" stroke-width="1.25"/>
<line x1="337.3" y1="581.1" x2="568.7" y2="581.1" stroke="#000" stroke-opacity="0.6" stroke-width="1.25"/>
<line x1="453.0" y1="465.5" x2="453.0" y2="696.7" stroke="#000" stroke-opacity="0.6" stroke-width="1.25"/>
<line x1="595.3" y1="581.1" x2="826.7" y2="581.1" stroke="#000" stroke-opacity="0.6" stroke-width="1.25"/>
<line x1="711.0" y1="465.5" x2="711.0" y2="696.7" stroke="#000" stroke-opacity="0.6" stroke-width="1.25"/>
<line x1="853.6" y1="581.1" x2="1085.0" y2="581.1" stroke="#000" stroke-opacity="0.6" stroke-width="1.25"/>
<line x1="969.3" y1="465.5" x2="969.3" y2="696.7" stroke="#000" stroke-opacity="0.6" stroke-width="1.25"/>
<line x1="78.8" y1="893.4" x2="310.2" y2="893.4" stroke="#000" stroke-opacity="0.6" stroke-width="1.25"/>
<line x1="194.5" y1="777.8" x2="194.5" y2="1009.0" stroke="#000" stroke-opacity="0.6" stroke-width="1.25"/>
<line x1="337.3" y1="893.4" x2="568.7" y2="893.4" stroke="#000" stroke-opacity="0.6" stroke-width="1.25"/>
<line x1="453.0" y1="777.8" x2="453.0" y2="1009.0" stroke="#000" stroke-opacity="0.6" stroke-width="1.25"/>
<line x1="595.3" y1="893.4" x2="826.7" y2="893.4" stroke="#000" stroke-opacity="0.6" stroke-width="1.25"/>
<line x1="711.0" y1="777.8" x2="711.0" y2="1009.0" stroke="#000" stroke-opacity="0.6" stroke-width="1.25"/>
<line x1="853.6" y1="893.4" x2="1085.0" y2="893.4" stroke="#000" stroke-opacity="0.6" stroke-width="1.25"/>
<line x1="969.3" y1="777.8" x2="969.3" y2="1009.0" stroke="#000" stroke-opacity="0.6" stroke-width="1.25"/>
<line x1="78.8" y1="1205.5" x2="310.2" y2="1205.5" stroke="#000" stroke-opacity="0.6" stroke-width="1.25"/>
<line x1="194.5" y1="1089.9" x2="194.5" y2="1321.1" stroke="#000" stroke-opacity="0.6" stroke-width="1.25"/>
<line x1="337.3" y1="1205.5" x2="568.7" y2="1205.5" stroke="#000" stroke-opacity="0.6" stroke-width="1.25"/>
<line x1="453.0" y1="1089.9" x2="453.0" y2="1321.1" stroke="#000" stroke-opacity="0.6" stroke-width="1.25"/>
<line x1="595.3" y1="1205.5" x2="826.7" y2="1205.5" stroke="#000" stroke-opacity="0.6" stroke-width="1.25"/>
<line x1="711.0" y1="1089.9" x2="711.0" y2="1321.1" stroke="#000" stroke-opacity="0.6" stroke-width="1.25"/>
<line x1="853.6" y1="1205.5" x2="1085.0" y2="1205.5" stroke="#000" stroke-opacity="0.6" stroke-width="1.25"/>
<line x1="969.3" y1="1089.9" x2="969.3" y2="1321.1" stroke="#000" stroke-opacity="0.6" stroke-width="1.25"/>
<g style="font-family:'Liberation Serif',serif" fill="#000">
<text x="204" y="219.6" font-size="23">&#934;</text><text x="221" y="223.5" font-size="17" font-style="italic">p</text>
<text x="292" y="345.7" font-size="23">&#934;</text><text x="310.0" y="350.3" font-size="15.5" font-style="italic" textLength="9" lengthAdjust="spacingAndGlyphs">h</text>
</g>
<path fill="#000" fill-rule="evenodd" d="M111.50,755.80 L124.50,729.90 L127.10,729.90 L139.90,755.80 Z M115.00,752.90 L124.60,734.50 L134.50,752.90 Z"/>
<rect x="153.80" y="741.95" width="25.4" height="1.9" rx="0.9" fill="#000"/>
<rect x="153.80" y="749.75" width="25.4" height="1.9" rx="0.9" fill="#000"/>
<text x="192.30" y="756.00" font-size="37" textLength="85.5" lengthAdjust="spacingAndGlyphs" style="font-family:'Liberation Serif',serif">0.933</text>
<path fill="#000" fill-rule="evenodd" d="M370.00,755.80 L383.00,729.90 L385.60,729.90 L398.40,755.80 Z M373.50,752.90 L383.10,734.50 L393.00,752.90 Z"/>
<rect x="412.30" y="741.95" width="25.4" height="1.9" rx="0.9" fill="#000"/>
<rect x="412.30" y="749.75" width="25.4" height="1.9" rx="0.9" fill="#000"/>
<text x="450.80" y="756.00" font-size="37" textLength="85.5" lengthAdjust="spacingAndGlyphs" style="font-family:'Liberation Serif',serif">0.033</text>
<path fill="#000" fill-rule="evenodd" d="M628.00,755.80 L641.00,729.90 L643.60,729.90 L656.40,755.80 Z M631.50,752.90 L641.10,734.50 L651.00,752.90 Z"/>
<rect x="670.30" y="741.95" width="25.4" height="1.9" rx="0.9" fill="#000"/>
<rect x="670.30" y="749.75" width="25.4" height="1.9" rx="0.9" fill="#000"/>
<text x="708.80" y="756.00" font-size="37" textLength="85.5" lengthAdjust="spacingAndGlyphs" style="font-family:'Liberation Serif',serif">0.335</text>
<path fill="#000" fill-rule="evenodd" d="M886.30,755.80 L899.30,729.90 L901.90,729.90 L914.70,755.80 Z M889.80,752.90 L899.40,734.50 L909.30,752.90 Z"/>
<rect x="928.60" y="741.95" width="25.4" height="1.9" rx="0.9" fill="#000"/>
<rect x="928.60" y="749.75" width="25.4" height="1.9" rx="0.9" fill="#000"/>
<text x="967.10" y="756.00" font-size="37" textLength="85.5" lengthAdjust="spacingAndGlyphs" style="font-family:'Liberation Serif',serif">0.031</text>
<path fill="#000" fill-rule="evenodd" d="M96.80,1067.70 L109.80,1041.80 L112.40,1041.80 L125.20,1067.70 Z M100.30,1064.80 L109.90,1046.40 L119.80,1064.80 Z"/>
<rect x="139.10" y="1053.85" width="25.4" height="1.9" rx="0.9" fill="#000"/>
<rect x="139.10" y="1061.65" width="25.4" height="1.9" rx="0.9" fill="#000"/>
<rect x="179.90" y="1058.00" width="23.4" height="1.9" rx="0.9" fill="#000"/>
<text x="207.50" y="1067.90" font-size="37" textLength="85.5" lengthAdjust="spacingAndGlyphs" style="font-family:'Liberation Serif',serif">0.943</text>
<path fill="#000" fill-rule="evenodd" d="M355.30,1067.70 L368.30,1041.80 L370.90,1041.80 L383.70,1067.70 Z M358.80,1064.80 L368.40,1046.40 L378.30,1064.80 Z"/>
<rect x="397.60" y="1053.85" width="25.4" height="1.9" rx="0.9" fill="#000"/>
<rect x="397.60" y="1061.65" width="25.4" height="1.9" rx="0.9" fill="#000"/>
<rect x="438.40" y="1058.00" width="23.4" height="1.9" rx="0.9" fill="#000"/>
<text x="466.00" y="1067.90" font-size="37" textLength="85.5" lengthAdjust="spacingAndGlyphs" style="font-family:'Liberation Serif',serif">0.025</text>
<path fill="#000" fill-rule="evenodd" d="M613.30,1067.70 L626.30,1041.80 L628.90,1041.80 L641.70,1067.70 Z M616.80,1064.80 L626.40,1046.40 L636.30,1064.80 Z"/>
<rect x="655.60" y="1053.85" width="25.4" height="1.9" rx="0.9" fill="#000"/>
<rect x="655.60" y="1061.65" width="25.4" height="1.9" rx="0.9" fill="#000"/>
<rect x="696.40" y="1058.00" width="23.4" height="1.9" rx="0.9" fill="#000"/>
<text x="724.00" y="1067.90" font-size="37" textLength="85.5" lengthAdjust="spacingAndGlyphs" style="font-family:'Liberation Serif',serif">0.906</text>
<path fill="#000" fill-rule="evenodd" d="M871.60,1067.70 L884.60,1041.80 L887.20,1041.80 L900.00,1067.70 Z M875.10,1064.80 L884.70,1046.40 L894.60,1064.80 Z"/>
<rect x="913.90" y="1053.85" width="25.4" height="1.9" rx="0.9" fill="#000"/>
<rect x="913.90" y="1061.65" width="25.4" height="1.9" rx="0.9" fill="#000"/>
<rect x="954.70" y="1058.00" width="23.4" height="1.9" rx="0.9" fill="#000"/>
<text x="982.30" y="1067.90" font-size="37" textLength="85.5" lengthAdjust="spacingAndGlyphs" style="font-family:'Liberation Serif',serif">0.022</text>
<path fill="#000" fill-rule="evenodd" d="M111.50,1379.80 L124.50,1353.90 L127.10,1353.90 L139.90,1379.80 Z M115.00,1376.90 L124.60,1358.50 L134.50,1376.90 Z"/>
<rect x="153.80" y="1365.95" width="25.4" height="1.9" rx="0.9" fill="#000"/>
<rect x="153.80" y="1373.75" width="25.4" height="1.9" rx="0.9" fill="#000"/>
<text x="192.30" y="1380.00" font-size="37" textLength="85.5" lengthAdjust="spacingAndGlyphs" style="font-family:'Liberation Serif',serif">0.010</text>
<path fill="#000" fill-rule="evenodd" d="M355.30,1379.80 L368.30,1353.90 L370.90,1353.90 L383.70,1379.80 Z M358.80,1376.90 L368.40,1358.50 L378.30,1376.90 Z"/>
<rect x="397.60" y="1365.95" width="25.4" height="1.9" rx="0.9" fill="#000"/>
<rect x="397.60" y="1373.75" width="25.4" height="1.9" rx="0.9" fill="#000"/>
<rect x="438.40" y="1370.10" width="23.4" height="1.9" rx="0.9" fill="#000"/>
<text x="466.00" y="1380.00" font-size="37" textLength="85.5" lengthAdjust="spacingAndGlyphs" style="font-family:'Liberation Serif',serif">0.008</text>
<path fill="#000" fill-rule="evenodd" d="M628.00,1379.80 L641.00,1353.90 L643.60,1353.90 L656.40,1379.80 Z M631.50,1376.90 L641.10,1358.50 L651.00,1376.90 Z"/>
<rect x="670.30" y="1365.95" width="25.4" height="1.9" rx="0.9" fill="#000"/>
<rect x="670.30" y="1373.75" width="25.4" height="1.9" rx="0.9" fill="#000"/>
<text x="708.80" y="1380.00" font-size="37" textLength="85.5" lengthAdjust="spacingAndGlyphs" style="font-family:'Liberation Serif',serif">0.571</text>
<path fill="#000" fill-rule="evenodd" d="M871.60,1379.80 L884.60,1353.90 L887.20,1353.90 L900.00,1379.80 Z M875.10,1376.90 L884.70,1358.50 L894.60,1376.90 Z"/>
<rect x="913.90" y="1365.95" width="25.4" height="1.9" rx="0.9" fill="#000"/>
<rect x="913.90" y="1373.75" width="25.4" height="1.9" rx="0.9" fill="#000"/>
<rect x="954.70" y="1370.10" width="23.4" height="1.9" rx="0.9" fill="#000"/>
<text x="982.30" y="1380.00" font-size="37" textLength="85.5" lengthAdjust="spacingAndGlyphs" style="font-family:'Liberation Serif',serif">0.009</text>
</svg></body></html>
